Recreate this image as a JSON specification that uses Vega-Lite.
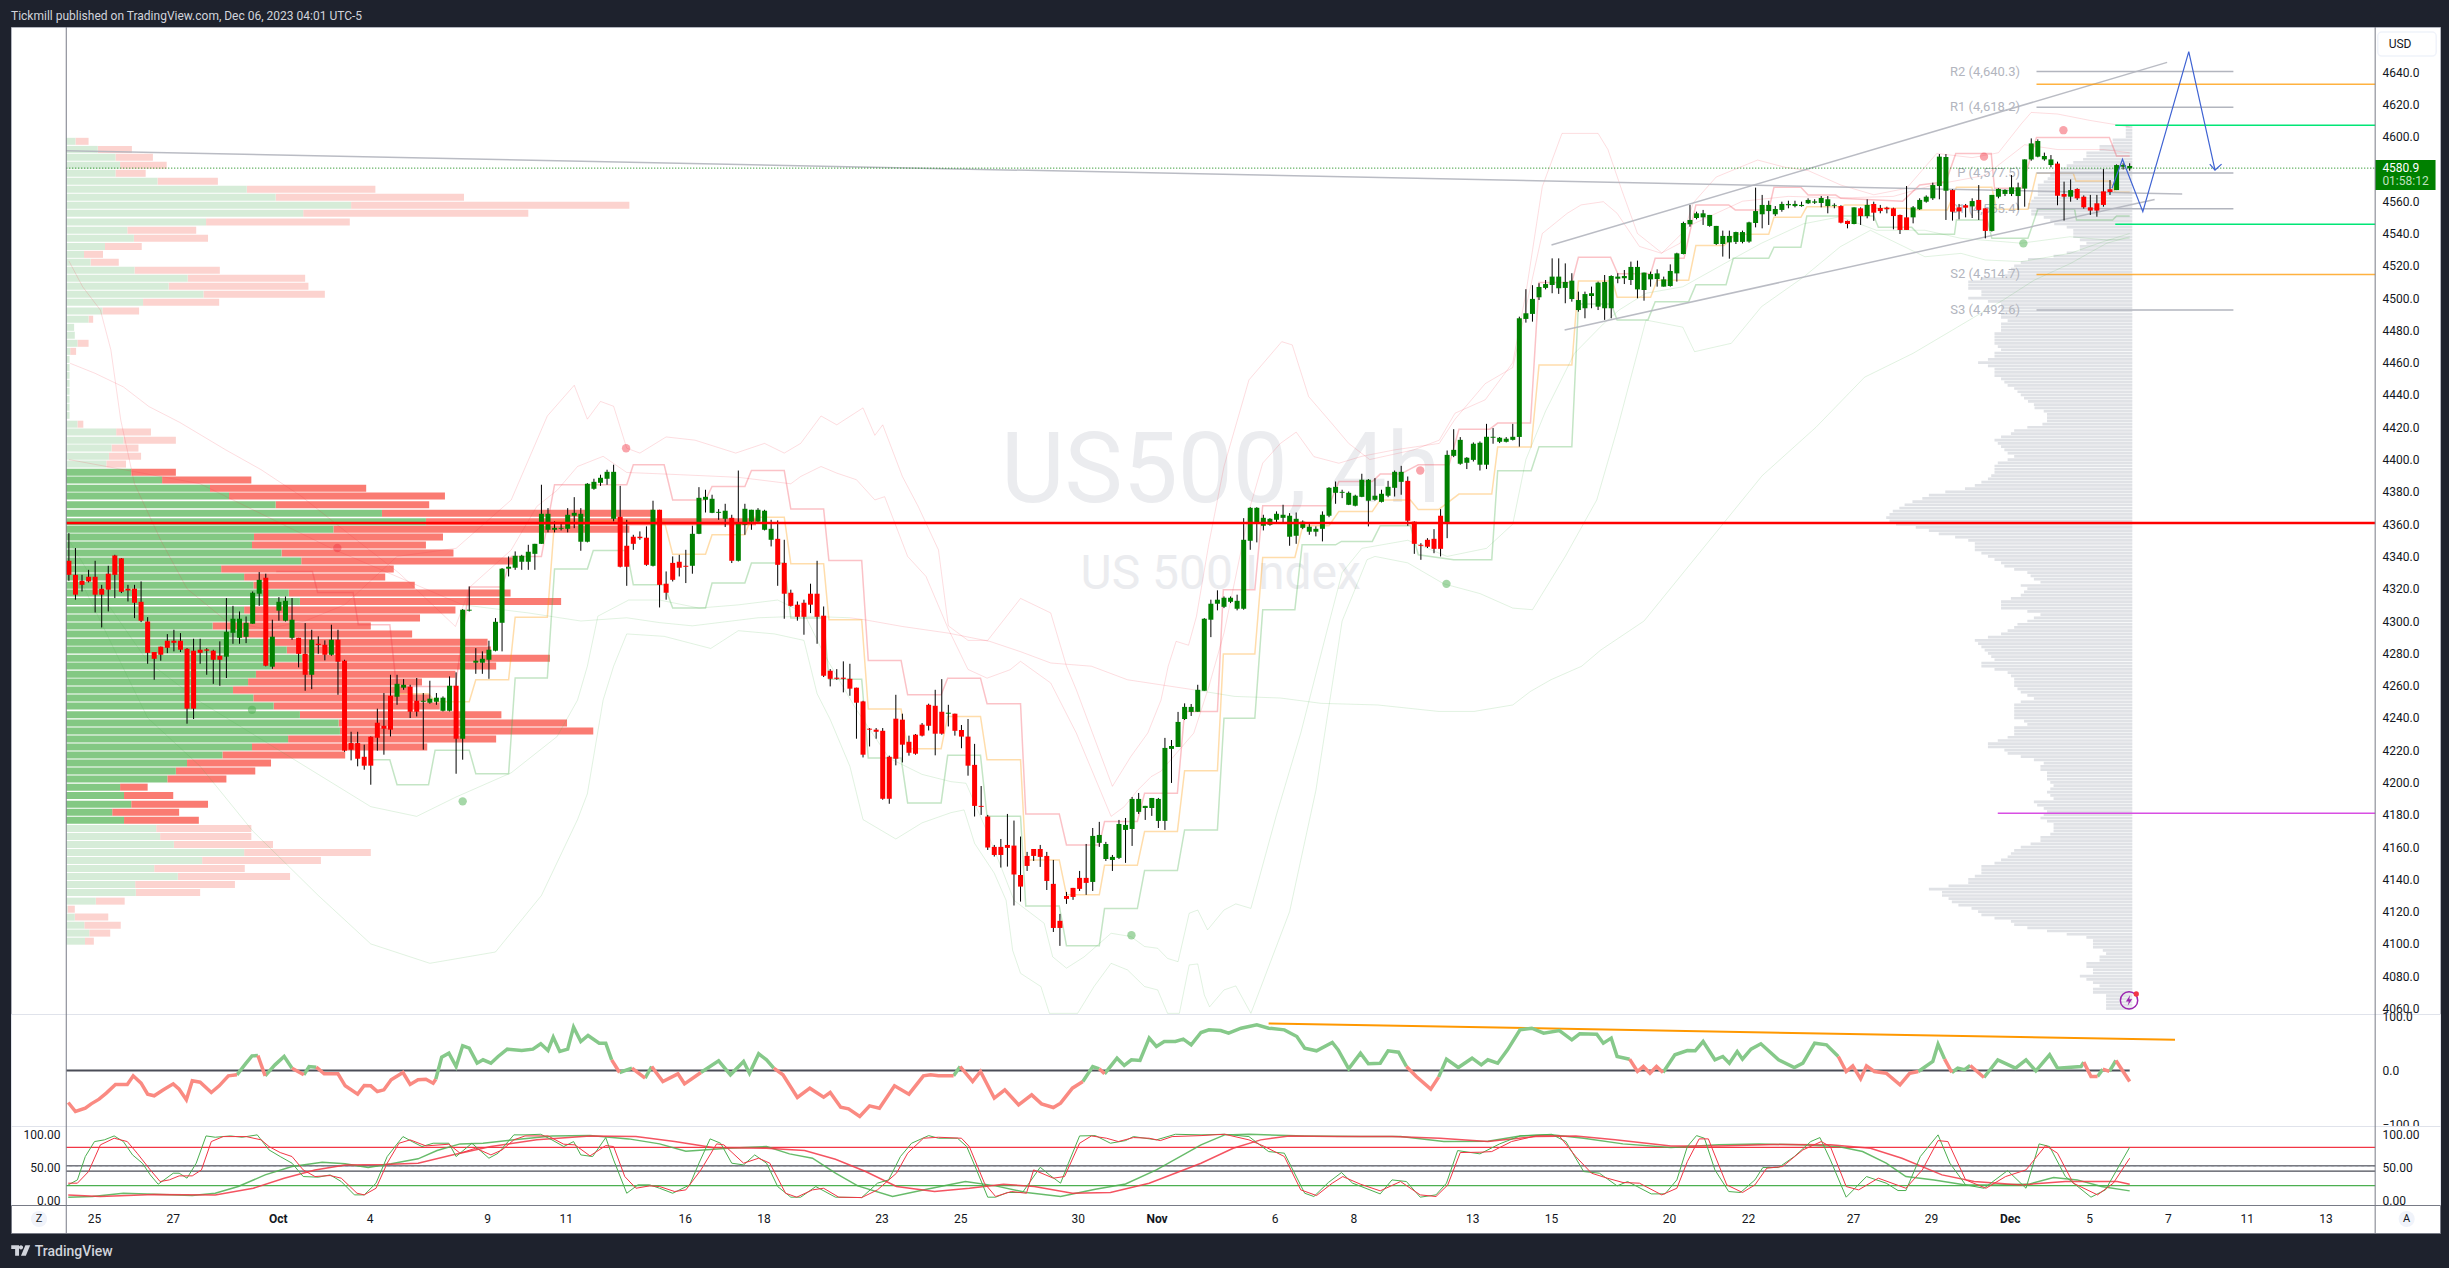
{"$schema":"https://vega.github.io/schema/vega-lite/v6.json","background":"#1e222d","padding":{"left":10,"right":10,"top":0,"bottom":0},"spacing":0,"bounds":"flush","config":{"font":"Roboto"},
"datasets":{
"candles":[
{"i":0,"d":0,"h":4354.4,"t":4337.3,"b":4328.6,"l":4324.9},{"i":1,"d":0,"h":4345.2,"t":4328.6,"b":4316.3,"l":4313.2},{"i":2,"d":0,"h":4328.6,"t":4324.9,"b":4322.4,"l":4318.3},{"i":3,"d":0,"h":4331.7,"t":4327.4,"b":4324.5,"l":4323.9},{"i":4,"d":0,"h":4337.3,"t":4327.4,"b":4316.3,"l":4305.3},{"i":5,"d":0,"h":4322.4,"t":4320,"b":4316.3,"l":4296},{"i":6,"d":0,"h":4334.2,"t":4329.3,"b":4319.4,"l":4305.9},{"i":7,"d":0,"h":4341,"t":4340.6,"b":4328.6,"l":4314.2},{"i":8,"d":0,"h":4339,"t":4338.8,"b":4318.1,"l":4317.3},{"i":9,"d":0,"h":4322.4,"t":4320,"b":4318.9,"l":4312.1},
{"i":10,"d":0,"h":4322.4,"t":4320,"b":4311.3,"l":4301.8},{"i":11,"d":0,"h":4324.5,"t":4311.9,"b":4300.2,"l":4299.3},{"i":12,"d":0,"h":4302.4,"t":4299.7,"b":4280.3,"l":4273.5},{"i":13,"d":0,"h":4280.8,"t":4280.8,"b":4276.6,"l":4263.6},{"i":14,"d":0,"h":4284.1,"t":4284.1,"b":4279.1,"l":4275.4},{"i":15,"d":0,"h":4291.9,"t":4287.8,"b":4283.4,"l":4280.1},{"i":16,"d":0,"h":4294.6,"t":4287.8,"b":4286.5,"l":4281.2},{"i":17,"d":0,"h":4292.5,"t":4287.8,"b":4282.2,"l":4280.8},{"i":18,"d":0,"h":4283.2,"t":4282.8,"b":4245.7,"l":4236.4},{"i":19,"d":0,"h":4289,"t":4281.6,"b":4245.7,"l":4239.3},
{"i":20,"d":0,"h":4289,"t":4282.2,"b":4280.3,"l":4273.5},{"i":21,"d":0,"h":4283.2,"t":4282.4,"b":4281.6,"l":4266.7},{"i":22,"d":0,"h":4282.2,"t":4281.6,"b":4276,"l":4261.1},{"i":23,"d":0,"h":4287.4,"t":4278.5,"b":4276,"l":4259.9},{"i":24,"d":1,"h":4314.2,"t":4293.3,"b":4277.9,"l":4264.7},{"i":25,"d":1,"h":4309.4,"t":4301.4,"b":4292.7,"l":4285.9},{"i":26,"d":1,"h":4305.9,"t":4301.4,"b":4289.6,"l":4285.9},{"i":27,"d":1,"h":4302.8,"t":4298.9,"b":4290.2,"l":4286.3},{"i":28,"d":1,"h":4318.3,"t":4317.5,"b":4298.3,"l":4298.3},{"i":29,"d":1,"h":4330.3,"t":4325.5,"b":4316.9,"l":4309.4},
{"i":30,"d":0,"h":4329.3,"t":4326.8,"b":4272.3,"l":4271.9},{"i":31,"d":1,"h":4300.8,"t":4290.3,"b":4271.7,"l":4270.4},{"i":32,"d":1,"h":4314.8,"t":4311.9,"b":4306.4,"l":4300.2},{"i":33,"d":1,"h":4315.2,"t":4312.5,"b":4300.2,"l":4299.7},{"i":34,"d":1,"h":4314.2,"t":4300.8,"b":4289.6,"l":4288.4},{"i":35,"d":0,"h":4289.6,"t":4289.6,"b":4279.7,"l":4271.3},{"i":36,"d":0,"h":4298.7,"t":4279.7,"b":4266.7,"l":4256.8},{"i":37,"d":1,"h":4294.6,"t":4288.4,"b":4266.7,"l":4257.8},{"i":38,"d":0,"h":4290.5,"t":4285.9,"b":4285.1,"l":4279.7},{"i":39,"d":0,"h":4288,"t":4285.3,"b":4279.1,"l":4275.6},
{"i":40,"d":1,"h":4297.7,"t":4288.4,"b":4279.1,"l":4278.5},{"i":41,"d":0,"h":4294.6,"t":4288.4,"b":4274.8,"l":4254.3},{"i":42,"d":0,"h":4276,"t":4275.4,"b":4219.7,"l":4219},{"i":43,"d":0,"h":4231.4,"t":4224.4,"b":4220.3,"l":4213.7},{"i":44,"d":0,"h":4231.4,"t":4224.4,"b":4214.7,"l":4210},{"i":45,"d":0,"h":4223.4,"t":4215.9,"b":4210.4,"l":4207.9},{"i":46,"d":0,"h":4228.5,"t":4228.3,"b":4210.4,"l":4198.6},{"i":47,"d":0,"h":4245.7,"t":4237,"b":4227.7,"l":4219.7},{"i":48,"d":0,"h":4255.4,"t":4235.1,"b":4233.3,"l":4217.2},{"i":49,"d":0,"h":4266.7,"t":4253.7,"b":4232.7,"l":4228.5},
{"i":50,"d":1,"h":4266.7,"t":4261.1,"b":4253.1,"l":4248.1},{"i":51,"d":1,"h":4264,"t":4260.5,"b":4258.7,"l":4257.4},{"i":52,"d":0,"h":4260.5,"t":4259.3,"b":4243.8,"l":4239.9},{"i":53,"d":0,"h":4264.7,"t":4250.6,"b":4243.8,"l":4240.9},{"i":54,"d":1,"h":4255.4,"t":4250.6,"b":4250,"l":4220.3},{"i":55,"d":1,"h":4263,"t":4251.9,"b":4249.4,"l":4248.8},{"i":56,"d":1,"h":4255.4,"t":4252.5,"b":4250,"l":4248.1},{"i":57,"d":1,"h":4253.3,"t":4252.5,"b":4244.4,"l":4244},{"i":58,"d":1,"h":4265.7,"t":4259.9,"b":4244.4,"l":4244},{"i":59,"d":0,"h":4268.2,"t":4259.9,"b":4227.1,"l":4205.4},
{"i":60,"d":1,"h":4307.4,"t":4307,"b":4227.1,"l":4214.1},{"i":61,"d":1,"h":4321.4,"t":4307,"b":4306.4,"l":4305.9},{"i":62,"d":1,"h":4283.2,"t":4275.4,"b":4274.2,"l":4267.3},{"i":63,"d":1,"h":4281.2,"t":4276.6,"b":4274.2,"l":4267.3},{"i":64,"d":1,"h":4287.8,"t":4282.2,"b":4276,"l":4264.2},{"i":65,"d":1,"h":4301.8,"t":4299.5,"b":4281.6,"l":4281.2},{"i":66,"d":1,"h":4332.8,"t":4332.4,"b":4298.9,"l":4281.2},{"i":67,"d":1,"h":4340,"t":4333.6,"b":4332.4,"l":4327.6},{"i":68,"d":1,"h":4343.1,"t":4340.4,"b":4333,"l":4331.7},{"i":69,"d":1,"h":4341,"t":4340.4,"b":4336.7,"l":4331.7},
{"i":70,"d":1,"h":4347.2,"t":4342.9,"b":4336.7,"l":4331.7},{"i":71,"d":1,"h":4347.8,"t":4347.8,"b":4341.6,"l":4331.7},{"i":72,"d":1,"h":4384.4,"t":4366.4,"b":4347.8,"l":4347.8},{"i":73,"d":1,"h":4369.9,"t":4366.4,"b":4356.5,"l":4354.9},{"i":74,"d":1,"h":4361.7,"t":4357.7,"b":4356.5,"l":4354.9},{"i":75,"d":1,"h":4360.6,"t":4357.7,"b":4357.1,"l":4356.1},{"i":76,"d":1,"h":4369.9,"t":4365.8,"b":4357.1,"l":4354.9},{"i":77,"d":1,"h":4376.7,"t":4367,"b":4365.2,"l":4357.5},{"i":78,"d":1,"h":4369.9,"t":4366.4,"b":4349.1,"l":4343.5},{"i":79,"d":1,"h":4385.4,"t":4385,"b":4349.1,"l":4348.7},
{"i":80,"d":1,"h":4388.1,"t":4386.2,"b":4381.9,"l":4381.3},{"i":81,"d":1,"h":4390.6,"t":4388.7,"b":4385.6,"l":4383.7},{"i":82,"d":1,"h":4393.7,"t":4392.4,"b":4388.1,"l":4384.4},{"i":83,"d":1,"h":4396.8,"t":4392.4,"b":4363.3,"l":4361.7},{"i":84,"d":0,"h":4383.7,"t":4364.6,"b":4333.6,"l":4333.2},{"i":85,"d":0,"h":4362.7,"t":4346.6,"b":4333.6,"l":4321.8},{"i":86,"d":0,"h":4353.4,"t":4352.2,"b":4347.8,"l":4344.1},{"i":87,"d":0,"h":4355.5,"t":4352.2,"b":4351.3,"l":4350.3},{"i":88,"d":0,"h":4358.6,"t":4351.6,"b":4334.8,"l":4334.2},{"i":89,"d":1,"h":4374.5,"t":4368.9,"b":4334.2,"l":4333.8},
{"i":90,"d":0,"h":4368.9,"t":4368.9,"b":4322.4,"l":4308.4},{"i":91,"d":0,"h":4330.7,"t":4323.1,"b":4317.5,"l":4313.2},{"i":92,"d":0,"h":4340,"t":4336,"b":4325.5,"l":4324.5},{"i":93,"d":0,"h":4341,"t":4336.7,"b":4333,"l":4327.6},{"i":94,"d":0,"h":4344.1,"t":4334.2,"b":4333.6,"l":4323.5},{"i":95,"d":1,"h":4359,"t":4354,"b":4334.2,"l":4329.3},{"i":96,"d":1,"h":4382.9,"t":4376.3,"b":4354,"l":4353.8},{"i":97,"d":1,"h":4381.3,"t":4376.9,"b":4375.1,"l":4367.2},{"i":98,"d":1,"h":4378.2,"t":4375.7,"b":4367,"l":4366.8},{"i":99,"d":1,"h":4369.3,"t":4367.6,"b":4367,"l":4362.7},
{"i":100,"d":1,"h":4372.6,"t":4368.3,"b":4363.3,"l":4358.2},{"i":101,"d":0,"h":4365.8,"t":4363.9,"b":4337.3,"l":4335.9},{"i":102,"d":1,"h":4393.2,"t":4360.2,"b":4337.3,"l":4336.9},{"i":103,"d":1,"h":4372.6,"t":4369.5,"b":4359.6,"l":4353.4},{"i":104,"d":1,"h":4368.9,"t":4368.9,"b":4361.5,"l":4356.5},{"i":105,"d":1,"h":4369.9,"t":4368.9,"b":4361.5,"l":4360.6},{"i":106,"d":1,"h":4368.9,"t":4368.3,"b":4356.5,"l":4356.1},{"i":107,"d":1,"h":4362.7,"t":4357.1,"b":4350.3,"l":4346.2},{"i":108,"d":0,"h":4362.3,"t":4350.9,"b":4334.8,"l":4321.8},{"i":109,"d":0,"h":4350.3,"t":4336,"b":4316.9,"l":4301.4},
{"i":110,"d":0,"h":4319.4,"t":4317.5,"b":4309.4,"l":4309},{"i":111,"d":0,"h":4312.1,"t":4310.1,"b":4302.6,"l":4300.2},{"i":112,"d":0,"h":4313.2,"t":4311.3,"b":4302.6,"l":4291.5},{"i":113,"d":0,"h":4323.1,"t":4316.9,"b":4310.1,"l":4304.9},{"i":114,"d":0,"h":4337.3,"t":4316.9,"b":4302.6,"l":4285.9},{"i":115,"d":0,"h":4309,"t":4303.3,"b":4266.1,"l":4265.3},{"i":116,"d":0,"h":4270.2,"t":4269.2,"b":4264.2,"l":4259.5},{"i":117,"d":0,"h":4270.2,"t":4264.9,"b":4264.2,"l":4263.6},{"i":118,"d":0,"h":4275,"t":4264.9,"b":4264.2,"l":4255.8},{"i":119,"d":0,"h":4273.5,"t":4264.2,"b":4258.1,"l":4253.7},
{"i":120,"d":0,"h":4258.7,"t":4258.7,"b":4249.4,"l":4227.1},{"i":121,"d":0,"h":4250.6,"t":4250.2,"b":4217.2,"l":4215.5},{"i":122,"d":0,"h":4233.7,"t":4233.3,"b":4232.7,"l":4222.3},{"i":123,"d":0,"h":4233.7,"t":4232.7,"b":4231.4,"l":4227.1},{"i":124,"d":0,"h":4233.7,"t":4232,"b":4189.9,"l":4189.3},{"i":125,"d":0,"h":4216.6,"t":4215.9,"b":4189.9,"l":4186.8},{"i":126,"d":0,"h":4254.3,"t":4239.5,"b":4214.7,"l":4210.6},{"i":127,"d":0,"h":4242.6,"t":4238.9,"b":4223.4,"l":4212.4},{"i":128,"d":0,"h":4229,"t":4225.2,"b":4218.4,"l":4216.6},{"i":129,"d":0,"h":4230,"t":4229.6,"b":4217.8,"l":4217.2},
{"i":130,"d":0,"h":4236.8,"t":4235.8,"b":4229,"l":4228.5},{"i":131,"d":0,"h":4248.8,"t":4248.1,"b":4235.1,"l":4232.2},{"i":132,"d":0,"h":4257.4,"t":4247.5,"b":4230.2,"l":4216.8},{"i":133,"d":0,"h":4264,"t":4243.8,"b":4230.2,"l":4229.6},{"i":134,"d":1,"h":4248.1,"t":4243.2,"b":4242.6,"l":4234.7},{"i":135,"d":0,"h":4242.6,"t":4242.6,"b":4232,"l":4229},{"i":136,"d":0,"h":4235.6,"t":4232.5,"b":4228.4,"l":4221.2},{"i":137,"d":0,"h":4239.3,"t":4228.4,"b":4210.4,"l":4204.2},{"i":138,"d":0,"h":4223.9,"t":4210.9,"b":4185.5,"l":4178.9},{"i":139,"d":0,"h":4197.8,"t":4185.5,"b":4184.9,"l":4179.9},
{"i":140,"d":0,"h":4179.9,"t":4178.9,"b":4159.7,"l":4158.2},{"i":141,"d":0,"h":4161.3,"t":4160.1,"b":4155.1,"l":4154.1},{"i":142,"d":0,"h":4165,"t":4160.1,"b":4155.1,"l":4147.3},{"i":143,"d":0,"h":4180.5,"t":4161.3,"b":4159.5,"l":4147.9},{"i":144,"d":0,"h":4176.4,"t":4160.9,"b":4143,"l":4123.8},{"i":145,"d":0,"h":4166.5,"t":4142.7,"b":4135.5,"l":4126.2},{"i":146,"d":0,"h":4157,"t":4154.5,"b":4148.3,"l":4145.2},{"i":147,"d":0,"h":4158.8,"t":4158.8,"b":4154.5,"l":4151.4},{"i":148,"d":0,"h":4161.3,"t":4158.8,"b":4153.9,"l":4147.7},{"i":149,"d":0,"h":4157,"t":4154.5,"b":4139,"l":4133.4},
{"i":150,"d":0,"h":4152,"t":4137.2,"b":4109.9,"l":4107.4},{"i":151,"d":0,"h":4118.6,"t":4114.3,"b":4109.9,"l":4098.8},{"i":152,"d":0,"h":4132.2,"t":4129.7,"b":4127.9,"l":4124.8},{"i":153,"d":0,"h":4134.7,"t":4134.7,"b":4129.1,"l":4127.3},{"i":154,"d":0,"h":4145.2,"t":4140.9,"b":4134.1,"l":4132.8},{"i":155,"d":0,"h":4161.9,"t":4140.9,"b":4137.8,"l":4130.4},{"i":156,"d":1,"h":4171.8,"t":4166.9,"b":4138.4,"l":4132.8},{"i":157,"d":1,"h":4175.6,"t":4167.5,"b":4162.6,"l":4160.1},{"i":158,"d":1,"h":4163.2,"t":4161.9,"b":4152.6,"l":4151.4},{"i":159,"d":1,"h":4155.1,"t":4153.9,"b":4152,"l":4145.2},
{"i":160,"d":1,"h":4176.8,"t":4174.3,"b":4153.3,"l":4152.6},{"i":161,"d":1,"h":4178,"t":4173.7,"b":4170.6,"l":4150.2},{"i":162,"d":1,"h":4191,"t":4189.8,"b":4171.2,"l":4160.7},{"i":163,"d":1,"h":4193.5,"t":4189.8,"b":4181.8,"l":4180.5},{"i":164,"d":1,"h":4185.5,"t":4185.5,"b":4184.2,"l":4176.8},{"i":165,"d":1,"h":4190.4,"t":4190.4,"b":4184.2,"l":4179.3},{"i":166,"d":1,"h":4190.4,"t":4189.8,"b":4176.2,"l":4171.8},{"i":167,"d":1,"h":4227.6,"t":4221.4,"b":4176.2,"l":4170.6},{"i":168,"d":1,"h":4226.3,"t":4222.6,"b":4220.8,"l":4199.7},{"i":169,"d":1,"h":4243.7,"t":4237.5,"b":4222,"l":4222},
{"i":170,"d":1,"h":4249,"t":4246.8,"b":4239.3,"l":4238.7},{"i":171,"d":1,"h":4248.6,"t":4246.8,"b":4243.7,"l":4241.2},{"i":172,"d":1,"h":4260.5,"t":4257.4,"b":4243.8,"l":4243.8},{"i":173,"d":1,"h":4301.8,"t":4301.4,"b":4256.8,"l":4256.8},{"i":174,"d":1,"h":4313.2,"t":4310.7,"b":4300.8,"l":4290},{"i":175,"d":1,"h":4319,"t":4313.2,"b":4310.7,"l":4306.6},{"i":176,"d":1,"h":4315.2,"t":4314.4,"b":4308.8,"l":4308},{"i":177,"d":1,"h":4315.2,"t":4314.4,"b":4311.9,"l":4311.1},{"i":178,"d":1,"h":4316.3,"t":4312.5,"b":4307.6,"l":4306.6},{"i":179,"d":1,"h":4363.7,"t":4350.3,"b":4307.6,"l":4307},
{"i":180,"d":1,"h":4370.5,"t":4370.1,"b":4349.7,"l":4344.1},{"i":181,"d":1,"h":4370.5,"t":4370.1,"b":4360.2,"l":4348.7},{"i":182,"d":1,"h":4365.8,"t":4363.9,"b":4359,"l":4356.1},{"i":183,"d":1,"h":4363.7,"t":4363.3,"b":4359.6,"l":4359},{"i":184,"d":1,"h":4367.9,"t":4366.4,"b":4362.7,"l":4360.6},{"i":185,"d":1,"h":4372,"t":4365.8,"b":4363.9,"l":4360.2},{"i":186,"d":1,"h":4366.8,"t":4365.2,"b":4352.2,"l":4346.6},{"i":187,"d":1,"h":4367.2,"t":4363.3,"b":4352.8,"l":4347.8},{"i":188,"d":1,"h":4362.3,"t":4361.5,"b":4357.7,"l":4356.9},{"i":189,"d":1,"h":4360.2,"t":4358.4,"b":4355.3,"l":4353.4},
{"i":190,"d":1,"h":4358.6,"t":4357.1,"b":4355.3,"l":4352.4},{"i":191,"d":1,"h":4367.9,"t":4365.8,"b":4357.1,"l":4349.3},{"i":192,"d":1,"h":4382.9,"t":4382.5,"b":4365.2,"l":4364.3},{"i":193,"d":1,"h":4386.4,"t":4383.1,"b":4379.4,"l":4372.6},{"i":194,"d":1,"h":4381.3,"t":4380,"b":4379.4,"l":4376.1},{"i":195,"d":1,"h":4380.2,"t":4379.4,"b":4372,"l":4371.8},{"i":196,"d":1,"h":4378.2,"t":4377.6,"b":4371.4,"l":4371},{"i":197,"d":1,"h":4391.2,"t":4387.5,"b":4376.9,"l":4376.7},{"i":198,"d":1,"h":4387.9,"t":4387.5,"b":4374.5,"l":4358.6},{"i":199,"d":1,"h":4388.5,"t":4377.6,"b":4375.1,"l":4374.5},
{"i":200,"d":1,"h":4381.3,"t":4378.8,"b":4373.8,"l":4373.4},{"i":201,"d":1,"h":4386.8,"t":4383.1,"b":4377.6,"l":4376.7},{"i":202,"d":1,"h":4393.2,"t":4392.4,"b":4382.5,"l":4377.1},{"i":203,"d":1,"h":4396.1,"t":4392.4,"b":4386.2,"l":4378.2},{"i":204,"d":0,"h":4389.5,"t":4386.8,"b":4362.1,"l":4359},{"i":205,"d":0,"h":4361.7,"t":4361.5,"b":4347.8,"l":4341.6},{"i":206,"d":0,"h":4348.2,"t":4347.2,"b":4346.6,"l":4337.9},{"i":207,"d":0,"h":4351.3,"t":4350.3,"b":4346,"l":4345.2},{"i":208,"d":0,"h":4356.9,"t":4350.9,"b":4344.7,"l":4342},{"i":209,"d":0,"h":4369.3,"t":4365.2,"b":4344.7,"l":4340},
{"i":210,"d":1,"h":4405.6,"t":4402.9,"b":4360.2,"l":4351.3},{"i":211,"d":1,"h":4418.8,"t":4406,"b":4402.3,"l":4401.5},{"i":212,"d":1,"h":4413.9,"t":4412.2,"b":4397.4,"l":4396.8},{"i":213,"d":1,"h":4401.5,"t":4401.1,"b":4398,"l":4394.1},{"i":214,"d":1,"h":4410.6,"t":4409.8,"b":4399.8,"l":4398.8},{"i":215,"d":1,"h":4411.2,"t":4410.4,"b":4396.8,"l":4393.2},{"i":216,"d":1,"h":4422.1,"t":4414.1,"b":4396.8,"l":4394.1},{"i":217,"d":1,"h":4419.5,"t":4414.1,"b":4413.5,"l":4409.8},{"i":218,"d":1,"h":4413.9,"t":4413.5,"b":4411,"l":4410.2},{"i":219,"d":1,"h":4413.9,"t":4412.9,"b":4411,"l":4410.6},
{"i":220,"d":1,"h":4422.1,"t":4414.1,"b":4412.2,"l":4411.8},{"i":221,"d":1,"h":4488.5,"t":4487.5,"b":4414,"l":4408},{"i":222,"d":1,"h":4505.5,"t":4490.6,"b":4487.1,"l":4484.8},{"i":223,"d":1,"h":4508,"t":4499.5,"b":4490.2,"l":4485.4},{"i":224,"d":1,"h":4509.2,"t":4506.9,"b":4500.5,"l":4498.8},{"i":225,"d":1,"h":4511.2,"t":4508.7,"b":4506.3,"l":4505.4},{"i":226,"d":1,"h":4524.6,"t":4513.3,"b":4508.1,"l":4503},{"i":227,"d":1,"h":4524.6,"t":4513.3,"b":4506.1,"l":4502.6},{"i":228,"d":1,"h":4521.5,"t":4510,"b":4506.3,"l":4496.8},{"i":229,"d":1,"h":4515.4,"t":4510.8,"b":4499.4,"l":4497.8},
{"i":230,"d":1,"h":4504,"t":4498.8,"b":4492.6,"l":4491.6},{"i":231,"d":1,"h":4504,"t":4502.5,"b":4493.7,"l":4487.5},{"i":232,"d":1,"h":4507.1,"t":4503,"b":4501.3,"l":4493.7},{"i":233,"d":1,"h":4510.2,"t":4509.6,"b":4494.7,"l":4492.6},{"i":234,"d":1,"h":4514.3,"t":4510,"b":4493.7,"l":4486.5},{"i":235,"d":1,"h":4514.1,"t":4513.7,"b":4493.7,"l":4487.5},{"i":236,"d":1,"h":4515.4,"t":4513.3,"b":4512,"l":4509.2},{"i":237,"d":1,"h":4517.4,"t":4513.7,"b":4512.3,"l":4508.7},{"i":238,"d":1,"h":4522.6,"t":4519.3,"b":4511.2,"l":4508.1},{"i":239,"d":1,"h":4523.2,"t":4519.3,"b":4505.4,"l":4499.9},
{"i":240,"d":1,"h":4515.8,"t":4515.8,"b":4505,"l":4498.4},{"i":241,"d":1,"h":4516.4,"t":4514.9,"b":4511.6,"l":4507.1},{"i":242,"d":1,"h":4517.8,"t":4515.3,"b":4511.8,"l":4507.1},{"i":243,"d":1,"h":4513.3,"t":4511.6,"b":4507.1,"l":4507.1},{"i":244,"d":1,"h":4520.9,"t":4516.8,"b":4507.5,"l":4507.1},{"i":245,"d":1,"h":4528.1,"t":4527.7,"b":4515.3,"l":4510.2},{"i":246,"d":1,"h":4547.3,"t":4546.5,"b":4527.3,"l":4527.1},{"i":247,"d":1,"h":4557.7,"t":4548.4,"b":4545.7,"l":4544.2},{"i":248,"d":1,"h":4553.5,"t":4552.5,"b":4549.6,"l":4548.8},{"i":249,"d":1,"h":4554.6,"t":4552.5,"b":4550,"l":4545.3},
{"i":250,"d":1,"h":4551.5,"t":4551.5,"b":4544.7,"l":4544.2},{"i":251,"d":1,"h":4544.7,"t":4544.7,"b":4533.5,"l":4532.9},{"i":252,"d":1,"h":4541.8,"t":4538.5,"b":4533.5,"l":4525.7},{"i":253,"d":1,"h":4541.8,"t":4538.5,"b":4534.5,"l":4524.4},{"i":254,"d":1,"h":4541.1,"t":4540.9,"b":4534.8,"l":4533.5},{"i":255,"d":1,"h":4541.8,"t":4540.9,"b":4534.8,"l":4533.9},{"i":256,"d":1,"h":4547.3,"t":4546.9,"b":4535,"l":4534.3},{"i":257,"d":1,"h":4568.4,"t":4553.9,"b":4546.5,"l":4543.8},{"i":258,"d":1,"h":4563.9,"t":4557.7,"b":4551.9,"l":4543.2},{"i":259,"d":1,"h":4560.3,"t":4557.7,"b":4553.9,"l":4545.3},
{"i":260,"d":1,"h":4557,"t":4555.2,"b":4551.9,"l":4550.8},{"i":261,"d":1,"h":4559.7,"t":4558.3,"b":4554.6,"l":4553.5},{"i":262,"d":1,"h":4560.3,"t":4558.3,"b":4557.5,"l":4555.6},{"i":263,"d":1,"h":4560.3,"t":4558.3,"b":4557,"l":4556.2},{"i":264,"d":1,"h":4559.7,"t":4557.7,"b":4557,"l":4556.6},{"i":265,"d":1,"h":4561.8,"t":4560.8,"b":4558.7,"l":4558.3},{"i":266,"d":1,"h":4561.2,"t":4559.9,"b":4559.1,"l":4558.3},{"i":267,"d":1,"h":4563.2,"t":4562,"b":4558.9,"l":4556.2},{"i":268,"d":1,"h":4563.2,"t":4561.2,"b":4557,"l":4552.5},{"i":269,"d":1,"h":4558.7,"t":4557.7,"b":4557.2,"l":4555.6},
{"i":270,"d":0,"h":4557.5,"t":4557,"b":4546.7,"l":4546.3},{"i":271,"d":0,"h":4548,"t":4547.8,"b":4545.9,"l":4543.2},{"i":272,"d":1,"h":4556.2,"t":4556.2,"b":4545.9,"l":4545.7},{"i":273,"d":0,"h":4556.2,"t":4555.6,"b":4550.8,"l":4545.3},{"i":274,"d":1,"h":4561.2,"t":4557.7,"b":4550.8,"l":4549.4},{"i":275,"d":0,"h":4559.7,"t":4558.3,"b":4552.9,"l":4547.9},{"i":276,"d":0,"h":4557.7,"t":4555.8,"b":4553.9,"l":4552.5},{"i":277,"d":0,"h":4556.6,"t":4556,"b":4555,"l":4552.5},{"i":278,"d":0,"h":4556,"t":4555.6,"b":4550.8,"l":4542.6},{"i":279,"d":0,"h":4551.7,"t":4551.5,"b":4542.2,"l":4539.7},
{"i":280,"d":0,"h":4569.4,"t":4550,"b":4542.2,"l":4542.2},{"i":281,"d":1,"h":4557,"t":4556.2,"b":4550,"l":4546.3},{"i":282,"d":1,"h":4561.8,"t":4560.8,"b":4555,"l":4554.6},{"i":283,"d":1,"h":4563.6,"t":4562.8,"b":4559.7,"l":4559.1},{"i":284,"d":1,"h":4571.5,"t":4570,"b":4561.8,"l":4560.8},{"i":285,"d":1,"h":4589.2,"t":4587.6,"b":4569.4,"l":4561.2},{"i":286,"d":1,"h":4589.2,"t":4587.4,"b":4566.5,"l":4548.4},{"i":287,"d":0,"h":4567.4,"t":4566.9,"b":4553.5,"l":4548},{"i":288,"d":0,"h":4558.3,"t":4556.2,"b":4553.7,"l":4548.8},{"i":289,"d":0,"h":4558.3,"t":4557.5,"b":4556,"l":4550},
{"i":290,"d":1,"h":4561.8,"t":4560.1,"b":4556.8,"l":4549.6},{"i":291,"d":0,"h":4570,"t":4560.8,"b":4554.6,"l":4548.4},{"i":292,"d":0,"h":4555.6,"t":4555.6,"b":4541.6,"l":4537},{"i":293,"d":1,"h":4563.9,"t":4563.9,"b":4541.6,"l":4541.2},{"i":294,"d":1,"h":4568,"t":4567.6,"b":4562.8,"l":4561.8},{"i":295,"d":1,"h":4567.4,"t":4567,"b":4564.5,"l":4563.2},{"i":296,"d":1,"h":4576.2,"t":4568.6,"b":4564.5,"l":4563.2},{"i":297,"d":1,"h":4571.5,"t":4568.6,"b":4563.2,"l":4554.6},{"i":298,"d":1,"h":4585.9,"t":4585.9,"b":4567.8,"l":4556.6},{"i":299,"d":1,"h":4598.9,"t":4595.8,"b":4585.9,"l":4585.1},
{"i":300,"d":1,"h":4598.3,"t":4597.3,"b":4587.6,"l":4587.2},{"i":301,"d":1,"h":4590.1,"t":4588,"b":4585.9,"l":4585.1},{"i":302,"d":1,"h":4588.6,"t":4585.9,"b":4582.4,"l":4581},{"i":303,"d":0,"h":4584.5,"t":4583.3,"b":4563.4,"l":4557.5},{"i":304,"d":0,"h":4572.1,"t":4564.5,"b":4562.8,"l":4548},{"i":305,"d":1,"h":4573.5,"t":4566.9,"b":4562.8,"l":4559.7},{"i":306,"d":0,"h":4568,"t":4567.6,"b":4561.8,"l":4560.8},{"i":307,"d":0,"h":4563.6,"t":4562.8,"b":4556.2,"l":4555.4},{"i":308,"d":0,"h":4563.9,"t":4556.2,"b":4554.2,"l":4551.5},{"i":309,"d":0,"h":4563.9,"t":4558.7,"b":4554.2,"l":4550.4},
{"i":310,"d":0,"h":4579.9,"t":4566.1,"b":4557.7,"l":4556.6},{"i":311,"d":0,"h":4573.1,"t":4567.4,"b":4565.7,"l":4563.9},{"i":312,"d":1,"h":4582.8,"t":4582.4,"b":4566.9,"l":4566.9},{"i":313,"d":1,"h":4583.5,"t":4582.4,"b":4581.4,"l":4579.7},{"i":314,"d":1,"h":4583.5,"t":4581.8,"b":4580.4,"l":4578.9}],
"vol":[
{"p":4597.1,"o":-0.4,"g":1,"r":3,"v":0},{"p":4592.1,"o":-0.4,"g":4.4,"r":9.6,"v":0},{"p":4587.2,"o":-0.4,"g":7.1,"r":12.8,"v":0},{"p":4582.2,"o":-0.4,"g":7.8,"r":14.9,"v":0},{"p":4577.3,"o":-0.4,"g":7.1,"r":11.7,"v":0},{"p":4572.3,"o":-0.4,"g":13.5,"r":22.7,"v":0},{"p":4567.4,"o":-0.4,"g":27.1,"r":46.7,"v":0},{"p":4562.4,"o":-0.4,"g":31.5,"r":60.2,"v":0},{"p":4557.5,"o":-0.4,"g":43,"r":85.4,"v":0},{"p":4552.5,"o":-0.4,"g":35.7,"r":70,"v":0},{"p":4547.2,"o":-0.4,"g":20.9,"r":42.8,"v":0},{"p":4542,"o":-0.4,"g":8.9,"r":19.4,"v":0},{"p":4537,"o":-0.4,"g":9.9,"r":21.2,"v":0},{"p":4532,"o":-0.4,"g":5.5,"r":11.1,"v":0},{"p":4527.1,"o":-0.4,"g":2.3,"r":5.2,"v":0},{"p":4522.2,"o":-0.4,"g":3.3,"r":7.6,"v":0},{"p":4517.2,"o":-0.4,"g":10,"r":23,"v":0},{"p":4512.3,"o":-0.4,"g":18.1,"r":36,"v":0},{"p":4507.3,"o":-0.4,"g":15.2,"r":36.5,"v":0},{"p":4502.4,"o":-0.4,"g":20.5,"r":39,"v":0},{"p":4497.4,"o":-0.4,"g":11.3,"r":22.9,"v":0},{"p":4492,"o":-0.4,"g":5.1,"r":10.7,"v":0},{"p":4486.9,"o":-0.4,"g":3,"r":3.7,"v":0},{"p":4481.9,"o":-0.4,"g":0.8,"r":0.8,"v":0},{"p":4477,"o":-0.4,"g":0.9,"r":0.9,"v":0},{"p":4472,"o":-0.4,"g":1.3,"r":3,"v":0},{"p":4467,"o":-0.4,"g":0.2,"r":1.1,"v":0},{"p":4462,"o":-0.4,"g":0.1,"r":0.1,"v":0},{"p":4457,"o":-0.4,"g":0.1,"r":0.1,"v":0},{"p":4452.2,"o":-0.4,"g":0.1,"r":0.1,"v":0},{"p":4447.2,"o":-0.4,"g":0.1,"r":0.1,"v":0},{"p":4442.3,"o":-0.4,"g":0.1,"r":0.1,"v":0},{"p":4437.3,"o":-0.4,"g":0.1,"r":0.1,"v":0},{"p":4432.4,"o":-0.4,"g":0.1,"r":0.1,"v":0},{"p":4427.4,"o":-0.4,"g":0.1,"r":0.1,"v":0},{"p":4421.9,"o":-0.4,"g":1.3,"r":2.2,"v":0},{"p":4417,"o":-0.4,"g":7.2,"r":12.5,"v":0},{"p":4412,"o":-0.4,"g":8.3,"r":16.3,"v":0},{"p":4407.1,"o":-0.4,"g":6.5,"r":10.6,"v":0},{"p":4402.1,"o":-0.4,"g":6.1,"r":11,"v":0},{"p":4397.2,"o":-0.4,"g":5.7,"r":8.7,"v":0},
{"p":4392.2,"o":-0.4,"g":9.5,"r":16.3,"v":1},{"p":4387.3,"o":-0.4,"g":14.2,"r":27.8,"v":1},{"p":4382.3,"o":-0.4,"g":21.5,"r":45.3,"v":1},{"p":4377.4,"o":-0.4,"g":24.4,"r":57.3,"v":1},{"p":4372,"o":-0.4,"g":31.5,"r":54.9,"v":1},{"p":4366.8,"o":-0.4,"g":47.7,"r":89.2,"v":1},{"p":4361.5,"o":-0.4,"g":54.4,"r":104.7,"v":1},{"p":4356.9,"o":-0.4,"g":40.3,"r":85.4,"v":1},{"p":4352,"o":-0.4,"g":28.2,"r":57,"v":1},{"p":4347,"o":-0.4,"g":27.9,"r":54.4,"v":1},{"p":4342.1,"o":-0.4,"g":32.4,"r":58.6,"v":1},{"p":4337.1,"o":-0.4,"g":35.4,"r":68.2,"v":1},{"p":4332.2,"o":-0.4,"g":23.2,"r":49.5,"v":1},{"p":4327.2,"o":-0.4,"g":26.7,"r":48.2,"v":1},{"p":4322.2,"o":-0.4,"g":28.1,"r":52.7,"v":1},{"p":4317.3,"o":-0.4,"g":33.5,"r":67.3,"v":1},{"p":4312.1,"o":-0.4,"g":35.2,"r":75,"v":1},{"p":4306.8,"o":-0.4,"g":26.7,"r":58.9,"v":1},{"p":4301.8,"o":-0.4,"g":28.1,"r":53.5,"v":1},{"p":4296.9,"o":-0.4,"g":21.9,"r":46,"v":1},{"p":4291.9,"o":-0.4,"g":26.2,"r":52.3,"v":1},{"p":4286.9,"o":-0.4,"g":30.9,"r":63.8,"v":1},{"p":4282,"o":-0.4,"g":33.2,"r":64.3,"v":1},{"p":4277,"o":-0.4,"g":35.5,"r":73.3,"v":1},{"p":4272.1,"o":-0.4,"g":30.9,"r":65.1,"v":1},{"p":4267.1,"o":-0.4,"g":28.5,"r":58.9,"v":1},{"p":4262.2,"o":-0.4,"g":27.3,"r":53.8,"v":1},{"p":4257.2,"o":-0.4,"g":25,"r":51.9,"v":1},{"p":4252.3,"o":-0.4,"g":28.1,"r":55,"v":1},{"p":4247.3,"o":-0.4,"g":31.2,"r":56.5,"v":1},{"p":4242,"o":-0.4,"g":35.2,"r":65.9,"v":1},{"p":4236.8,"o":-0.4,"g":41.1,"r":75.9,"v":1},{"p":4231.8,"o":-0.4,"g":41.3,"r":79.9,"v":1},{"p":4226.9,"o":-0.4,"g":33.4,"r":65.1,"v":1},{"p":4221.9,"o":-0.4,"g":27.9,"r":54.6,"v":1},{"p":4217,"o":-0.4,"g":23.4,"r":42.1,"v":1},{"p":4212,"o":-0.4,"g":18,"r":30.8,"v":1},{"p":4207.1,"o":-0.4,"g":16.3,"r":28.4,"v":1},{"p":4202.1,"o":-0.4,"g":15,"r":24,"v":1},{"p":4197.1,"o":-0.4,"g":7.8,"r":12,"v":1},{"p":4191.9,"o":-0.4,"g":8.4,"r":15.9,"v":1},{"p":4186.5,"o":-0.4,"g":9.5,"r":21.2,"v":1},{"p":4181.6,"o":-0.4,"g":6.6,"r":16.8,"v":1},{"p":4176.6,"o":-0.4,"g":8.4,"r":19.8,"v":1},
{"p":4171.5,"o":-0.4,"g":13.3,"r":27.8,"v":0},{"p":4166.5,"o":-0.4,"g":13.9,"r":27.8,"v":0},{"p":4161.6,"o":-0.4,"g":16,"r":31.1,"v":0},{"p":4156.6,"o":-0.4,"g":26.7,"r":46,"v":0},{"p":4151.7,"o":-0.4,"g":20.3,"r":38.4,"v":0},{"p":4146.7,"o":-0.4,"g":13,"r":26.8,"v":0},{"p":4141.7,"o":-0.4,"g":16.6,"r":33.7,"v":0},{"p":4136.8,"o":-0.4,"g":10.1,"r":25.3,"v":0},{"p":4131.8,"o":-0.4,"g":10.2,"r":20,"v":0},{"p":4126.5,"o":-0.4,"g":4.1,"r":8.5,"v":0},{"p":4121.5,"o":-0.4,"g":-0.2,"r":0.9,"v":0},{"p":4116.6,"o":-0.4,"g":0.9,"r":6,"v":0},{"p":4111.6,"o":-0.4,"g":2.35,"r":7.9,"v":0},{"p":4106.7,"o":-0.4,"g":3.1,"r":6.3,"v":0},{"p":4101.7,"o":-0.4,"g":2.45,"r":3.8,"v":0}],
"grey":[
{"p":4606,"a":313.4,"e":314.4},{"p":4604,"a":313.4,"e":314.4},{"p":4602,"a":313.4,"e":314.4},{"p":4600,"a":313.4,"e":314.4},{"p":4598,"a":311.4,"e":314.4},{"p":4596,"a":311.4,"e":314.4},{"p":4594,"a":309.4,"e":314.4},{"p":4592,"a":309.4,"e":314.4},{"p":4590,"a":307.4,"e":314.4},{"p":4588,"a":307.4,"e":314.4},{"p":4586,"a":306.9,"e":314.4},{"p":4584,"a":305.4,"e":314.4},{"p":4582,"a":304.4,"e":314.4},{"p":4580,"a":303.5,"e":314.4},{"p":4578,"a":302.4,"e":314.4},{"p":4576,"a":301.9,"e":314.4},{"p":4574,"a":301.5,"e":314.4},{"p":4572,"a":300.9,"e":314.4},{"p":4570,"a":300,"e":314.4},{"p":4568,"a":300,"e":314.4},{"p":4566,"a":300,"e":314.4},{"p":4564,"a":300,"e":314.4},{"p":4562,"a":299.4,"e":314.4},{"p":4560,"a":299,"e":314.4},{"p":4558,"a":298.5,"e":314.4},{"p":4556,"a":298.5,"e":314.4},{"p":4554,"a":299,"e":314.4},{"p":4552,"a":299,"e":314.4},{"p":4550,"a":300.9,"e":314.4},{"p":4548,"a":301.9,"e":314.4},{"p":4546,"a":302.5,"e":314.4},{"p":4544,"a":304.4,"e":314.4},{"p":4542,"a":305.4,"e":314.4},{"p":4540,"a":305.4,"e":314.4},{"p":4538,"a":305.4,"e":314.4},{"p":4536,"a":306.4,"e":314.4},{"p":4534,"a":307.4,"e":314.4},{"p":4532,"a":306.4,"e":314.4},{"p":4530,"a":306.4,"e":314.4},{"p":4528,"a":304.4,"e":314.4},{"p":4526,"a":302.4,"e":314.4},{"p":4524,"a":298.5,"e":314.4},{"p":4522,"a":297.4,"e":314.4},{"p":4520,"a":296.4,"e":314.4},{"p":4518,"a":295.9,"e":314.4},{"p":4516,"a":295.4,"e":314.4},{"p":4514,"a":294.9,"e":314.4},{"p":4512,"a":291.4,"e":314.4},{"p":4510,"a":289.4,"e":314.4},{"p":4508,"a":289.4,"e":314.4},{"p":4506,"a":289.4,"e":314.4},{"p":4504,"a":291.4,"e":314.4},{"p":4502,"a":291.4,"e":314.4},{"p":4500,"a":289.4,"e":314.4},{"p":4498,"a":292.4,"e":314.4},{"p":4496,"a":294.4,"e":314.4},{"p":4494,"a":294.4,"e":314.4},{"p":4492,"a":294.4,"e":314.4},{"p":4490,"a":294.4,"e":314.4},{"p":4488,"a":294.4,"e":314.4},{"p":4486,"a":295.4,"e":314.4},{"p":4484,"a":294.4,"e":314.4},{"p":4482,"a":294.4,"e":314.4},{"p":4480,"a":294.4,"e":314.4},{"p":4478,"a":293.4,"e":314.4},{"p":4476,"a":293.4,"e":314.4},{"p":4474,"a":293.4,"e":314.4},{"p":4472,"a":293.4,"e":314.4},{"p":4470,"a":293.9,"e":314.4},{"p":4468,"a":294.4,"e":314.4},{"p":4466,"a":293.4,"e":314.4},{"p":4464,"a":293.4,"e":314.4},{"p":4462,"a":292.4,"e":314.4},{"p":4460,"a":290.9,"e":314.4},{"p":4458,"a":292.4,"e":314.4},{"p":4456,"a":293.4,"e":314.4},{"p":4454,"a":293.4,"e":314.4},{"p":4452,"a":293.4,"e":314.4},{"p":4450,"a":294.4,"e":314.4},{"p":4448,"a":294.9,"e":314.4},{"p":4446,"a":295.4,"e":314.4},{"p":4444,"a":296.4,"e":314.4},{"p":4442,"a":296.9,"e":314.4},{"p":4440,"a":297.4,"e":314.4},{"p":4438,"a":297.9,"e":314.4},{"p":4436,"a":298.5,"e":314.4},{"p":4434,"a":299.4,"e":314.4},{"p":4432,"a":299.5,"e":314.4},{"p":4430,"a":300.9,"e":314.4},{"p":4428,"a":301.4,"e":314.4},{"p":4426,"a":301.4,"e":314.4},{"p":4424,"a":301.4,"e":314.4},{"p":4422,"a":300.7,"e":314.4},{"p":4420,"a":298.4,"e":314.4},{"p":4418,"a":296.4,"e":314.4},{"p":4416,"a":295.9,"e":314.4},{"p":4414,"a":294.4,"e":314.4},{"p":4412,"a":293.4,"e":314.4},{"p":4410,"a":293.9,"e":314.4},{"p":4408,"a":294.4,"e":314.4},{"p":4406,"a":294.9,"e":314.4},{"p":4404,"a":295.4,"e":314.4},{"p":4402,"a":296.4,"e":314.4},{"p":4400,"a":295.4,"e":314.4},{"p":4398,"a":293.9,"e":314.4},{"p":4396,"a":293.4,"e":314.4},{"p":4394,"a":293.4,"e":314.4},{"p":4392,"a":293.4,"e":314.4},{"p":4390,"a":292.9,"e":314.4},{"p":4388,"a":292.4,"e":314.4},{"p":4386,"a":291.4,"e":314.4},{"p":4384,"a":290.4,"e":314.4},{"p":4382,"a":288.9,"e":314.4},{"p":4380,"a":285.9,"e":314.4},{"p":4378,"a":283.4,"e":314.4},{"p":4376,"a":282.4,"e":314.4},{"p":4374,"a":280.9,"e":314.4},{"p":4372,"a":279.7,"e":314.4},{"p":4370,"a":278.9,"e":314.4},{"p":4368,"a":277.9,"e":314.4},{"p":4366,"a":277.4,"e":314.4},{"p":4364,"a":276.9,"e":314.4},{"p":4362,"a":277.4,"e":314.4},{"p":4360,"a":278.4,"e":314.4},{"p":4358,"a":281.4,"e":314.4},{"p":4356,"a":283.4,"e":314.4},{"p":4354,"a":284.9,"e":314.4},{"p":4352,"a":287.4,"e":314.4},{"p":4350,"a":289.4,"e":314.4},{"p":4348,"a":290.4,"e":314.4},{"p":4346,"a":290.4,"e":314.4},{"p":4344,"a":290.4,"e":314.4},{"p":4342,"a":291.4,"e":314.4},{"p":4340,"a":292.4,"e":314.4},{"p":4338,"a":293.4,"e":314.4},{"p":4336,"a":294.4,"e":314.4},{"p":4334,"a":294.9,"e":314.4},{"p":4332,"a":296.4,"e":314.4},{"p":4330,"a":298.4,"e":314.4},{"p":4328,"a":298.9,"e":314.4},{"p":4326,"a":299.4,"e":314.4},{"p":4324,"a":300.4,"e":314.4},{"p":4322,"a":297.4,"e":314.4},{"p":4320,"a":298.4,"e":314.4},{"p":4318,"a":297.9,"e":314.4},{"p":4316,"a":297.4,"e":314.4},{"p":4314,"a":295.9,"e":314.4},{"p":4312,"a":294.4,"e":314.4},{"p":4310,"a":294.4,"e":314.4},{"p":4308,"a":294.4,"e":314.4},{"p":4306,"a":298.4,"e":314.4},{"p":4304,"a":300.4,"e":314.4},{"p":4302,"a":299.4,"e":314.4},{"p":4300,"a":298.4,"e":314.4},{"p":4298,"a":296.9,"e":314.4},{"p":4296,"a":296.4,"e":314.4},{"p":4294,"a":295.4,"e":314.4},{"p":4292,"a":294.4,"e":314.4},{"p":4290,"a":292.4,"e":314.4},{"p":4288,"a":290.4,"e":314.4},{"p":4286,"a":290.9,"e":314.4},{"p":4284,"a":291.4,"e":314.4},{"p":4282,"a":291.9,"e":314.4},{"p":4280,"a":292.4,"e":314.4},{"p":4278,"a":292.9,"e":314.4},{"p":4276,"a":293.4,"e":314.4},{"p":4274,"a":291.4,"e":314.4},{"p":4272,"a":291.4,"e":314.4},{"p":4270,"a":293.4,"e":314.4},{"p":4268,"a":295.4,"e":314.4},{"p":4266,"a":295.9,"e":314.4},{"p":4264,"a":296.4,"e":314.4},{"p":4262,"a":296.4,"e":314.4},{"p":4260,"a":296.4,"e":314.4},{"p":4258,"a":296.9,"e":314.4},{"p":4256,"a":297.4,"e":314.4},{"p":4254,"a":298.4,"e":314.4},{"p":4252,"a":299.4,"e":314.4},{"p":4250,"a":297.4,"e":314.4},{"p":4248,"a":296.4,"e":314.4},{"p":4246,"a":296.4,"e":314.4},{"p":4244,"a":296.4,"e":314.4},{"p":4242,"a":296.4,"e":314.4},{"p":4240,"a":296.4,"e":314.4},{"p":4238,"a":297.9,"e":314.4},{"p":4236,"a":298.4,"e":314.4},{"p":4234,"a":296.4,"e":314.4},{"p":4232,"a":296.4,"e":314.4},{"p":4230,"a":296.4,"e":314.4},{"p":4228,"a":295.4,"e":314.4},{"p":4226,"a":293.9,"e":314.4},{"p":4224,"a":292.4,"e":314.4},{"p":4222,"a":292.4,"e":314.4},{"p":4220,"a":294.9,"e":314.4},{"p":4218,"a":295.4,"e":314.4},{"p":4216,"a":297.4,"e":314.4},{"p":4214,"a":299.4,"e":314.4},{"p":4212,"a":300.9,"e":314.4},{"p":4210,"a":300.4,"e":314.4},{"p":4208,"a":300.4,"e":314.4},{"p":4206,"a":301.4,"e":314.4},{"p":4204,"a":301.4,"e":314.4},{"p":4202,"a":301.4,"e":314.4},{"p":4200,"a":301.9,"e":314.4},{"p":4198,"a":302.4,"e":314.4},{"p":4196,"a":301.9,"e":314.4},{"p":4194,"a":301.4,"e":314.4},{"p":4192,"a":301.9,"e":314.4},{"p":4190,"a":302.4,"e":314.4},{"p":4188,"a":299.4,"e":314.4},{"p":4186,"a":299.9,"e":314.4},{"p":4184,"a":300.9,"e":314.4},{"p":4182,"a":301.4,"e":314.4},{"p":4180,"a":300.9,"e":314.4},{"p":4178,"a":300.4,"e":314.4},{"p":4176,"a":301.4,"e":314.4},{"p":4174,"a":302.4,"e":314.4},{"p":4172,"a":302.4,"e":314.4},{"p":4170,"a":302.4,"e":314.4},{"p":4168,"a":301.9,"e":314.4},{"p":4166,"a":300.4,"e":314.4},{"p":4164,"a":300.4,"e":314.4},{"p":4162,"a":298.9,"e":314.4},{"p":4160,"a":297.4,"e":314.4},{"p":4158,"a":296.4,"e":314.4},{"p":4156,"a":295.9,"e":314.4},{"p":4154,"a":295.4,"e":314.4},{"p":4152,"a":294.4,"e":314.4},{"p":4150,"a":293.4,"e":314.4},{"p":4148,"a":291.4,"e":314.4},{"p":4146,"a":291.4,"e":314.4},{"p":4144,"a":291.4,"e":314.4},{"p":4142,"a":290.4,"e":314.4},{"p":4140,"a":289.4,"e":314.4},{"p":4138,"a":289.4,"e":314.4},{"p":4136,"a":286.4,"e":314.4},{"p":4134,"a":283.4,"e":314.4},{"p":4132,"a":285.4,"e":314.4},{"p":4130,"a":285.4,"e":314.4},{"p":4128,"a":286.4,"e":314.4},{"p":4126,"a":286.9,"e":314.4},{"p":4124,"a":287.9,"e":314.4},{"p":4122,"a":289.9,"e":314.4},{"p":4120,"a":290.9,"e":314.4},{"p":4118,"a":291.4,"e":314.4},{"p":4116,"a":293.4,"e":314.4},{"p":4114,"a":295.9,"e":314.4},{"p":4112,"a":296.4,"e":314.4},{"p":4110,"a":298.4,"e":314.4},{"p":4108,"a":301.4,"e":314.4},{"p":4106,"a":304.4,"e":314.4},{"p":4104,"a":307.4,"e":314.4},{"p":4102,"a":308.4,"e":314.4},{"p":4100,"a":308.4,"e":314.4},{"p":4098,"a":308.4,"e":314.4},{"p":4096,"a":309.9,"e":314.4},{"p":4094,"a":310.4,"e":314.4},{"p":4092,"a":309.4,"e":314.4},{"p":4090,"a":309.4,"e":314.4},{"p":4088,"a":307.4,"e":314.4},{"p":4086,"a":307.4,"e":314.4},{"p":4084,"a":308.4,"e":314.4},{"p":4082,"a":308.4,"e":314.4},{"p":4080,"a":306.4,"e":314.4},{"p":4078,"a":307.4,"e":314.4},{"p":4076,"a":308.4,"e":314.4},{"p":4074,"a":309.4,"e":314.4},{"p":4072,"a":308.4,"e":314.4},{"p":4070,"a":308.4,"e":314.4},{"p":4068,"a":310.4,"e":314.4},{"p":4066,"a":310.4,"e":314.4},{"p":4064,"a":310.4,"e":314.4},{"p":4062,"a":310.4,"e":314.4},{"p":4060,"a":310.4,"e":314.4}],
"bandsRed":[
{"s":"u2","i":0,"p":4523},{"s":"u2","i":2.1,"p":4507},{"s":"u2","i":4.8,"p":4492.6},{"s":"u2","i":6.4,"p":4467.9},{"s":"u2","i":7.9,"p":4424.5},{"s":"u2","i":10,"p":4385},{"s":"u2","i":14,"p":4350},{"s":"u2","i":18,"p":4320},{"s":"u2","i":24,"p":4300},{"s":"u2","i":30,"p":4295},{"s":"u2","i":36,"p":4300},{"s":"u2","i":42,"p":4310},{"s":"u2","i":50,"p":4340},{"s":"u2","i":59,"p":4345},{"s":"u2","i":67.4,"p":4375},{"s":"u2","i":72.9,"p":4427},{"s":"u2","i":77,"p":4446},{"s":"u2","i":79,"p":4425},{"s":"u2","i":81,"p":4436},{"s":"u2","i":83,"p":4433},{"s":"u2","i":85,"p":4407},{"s":"u2","i":87,"p":4404},{"s":"u2","i":91,"p":4414},{"s":"u2","i":95.4,"p":4412},{"s":"u2","i":101.6,"p":4404},{"s":"u2","i":106,"p":4410},{"s":"u2","i":109,"p":4404},{"s":"u2","i":111.5,"p":4410},{"s":"u2","i":114.6,"p":4427},{"s":"u2","i":117,"p":4421.5},{"s":"u2","i":121,"p":4432},{"s":"u2","i":122.8,"p":4415},{"s":"u2","i":124,"p":4421.5},{"s":"u2","i":127,"p":4389.5},{"s":"u2","i":129.4,"p":4371},{"s":"u2","i":132.5,"p":4344},{"s":"u2","i":134,"p":4297},{"s":"u2","i":137,"p":4288},{"s":"u2","i":140,"p":4288},{"s":"u2","i":145,"p":4314},{"s":"u2","i":149.6,"p":4305},{"s":"u2","i":152,"p":4272},{"s":"u2","i":153.5,"p":4257.4},{"s":"u2","i":159,"p":4197.6},{"s":"u2","i":161.8,"p":4216},{"s":"u2","i":164.4,"p":4230.7},{"s":"u2","i":166.4,"p":4251},{"s":"u2","i":167.5,"p":4272},{"s":"u2","i":168.7,"p":4287.4},{"s":"u2","i":170.6,"p":4285},{"s":"u2","i":171.8,"p":4302.8},{"s":"u2","i":173.7,"p":4348},{"s":"u2","i":176,"p":4395.7},{"s":"u2","i":179.8,"p":4449.3},{"s":"u2","i":184.8,"p":4473},{"s":"u2","i":186.4,"p":4471},{"s":"u2","i":188.9,"p":4439},{"s":"u2","i":192.4,"p":4422.5},{"s":"u2","i":195,"p":4410},{"s":"u2","i":198.2,"p":4400},{"s":"u2","i":204.9,"p":4406},{"s":"u2","i":208.8,"p":4412},{"s":"u2","i":211.2,"p":4428.7},{"s":"u2","i":215.8,"p":4437},{"s":"u2","i":220,"p":4460},{"s":"u2","i":222,"p":4503},{"s":"u2","i":224.5,"p":4569},{"s":"u2","i":227.5,"p":4602},{"s":"u2","i":233,"p":4602},{"s":"u2","i":234.5,"p":4592},{"s":"u2","i":236.6,"p":4567},{"s":"u2","i":239,"p":4540},{"s":"u2","i":242.7,"p":4528},{"s":"u2","i":245.5,"p":4534},{"s":"u2","i":247.5,"p":4559},{"s":"u2","i":251,"p":4575},{"s":"u2","i":257.3,"p":4585.5},{"s":"u2","i":261.5,"p":4581},{"s":"u2","i":265,"p":4579},{"s":"u2","i":270,"p":4570},{"s":"u2","i":275,"p":4564},{"s":"u2","i":280,"p":4568},{"s":"u2","i":284.6,"p":4589.6},{"s":"u2","i":290,"p":4587},{"s":"u2","i":294,"p":4590},{"s":"u2","i":297.5,"p":4608},{"s":"u2","i":299,"p":4615},{"s":"u2","i":303,"p":4614},{"s":"u2","i":308,"p":4610},{"s":"u2","i":314,"p":4606},
{"s":"u1","i":0.2,"p":4459.6},{"s":"u1","i":4,"p":4453.4},{"s":"u1","i":8.3,"p":4445},{"s":"u1","i":12.2,"p":4432.8},{"s":"u1","i":16.9,"p":4423},{"s":"u1","i":23.9,"p":4406},{"s":"u1","i":29.3,"p":4393.7},{"s":"u1","i":35.5,"p":4377},{"s":"u1","i":42.5,"p":4354.4},{"s":"u1","i":50.3,"p":4329.7},{"s":"u1","i":58.9,"p":4296.6},{"s":"u1","i":61.2,"p":4321.4},{"s":"u1","i":67.4,"p":4344},{"s":"u1","i":71.3,"p":4371},{"s":"u1","i":74.4,"p":4381},{"s":"u1","i":77.5,"p":4395.7},{"s":"u1","i":81.4,"p":4402},{"s":"u1","i":85,"p":4392},{"s":"u1","i":91,"p":4391},{"s":"u1","i":102,"p":4389},{"s":"u1","i":110,"p":4385},{"s":"u1","i":111.5,"p":4389.5},{"s":"u1","i":114.6,"p":4395.7},{"s":"u1","i":117,"p":4391.6},{"s":"u1","i":120,"p":4387.5},{"s":"u1","i":122.8,"p":4375},{"s":"u1","i":124.3,"p":4377},{"s":"u1","i":127.8,"p":4340},{"s":"u1","i":130.6,"p":4327.6},{"s":"u1","i":134,"p":4295},{"s":"u1","i":137,"p":4270},{"s":"u1","i":139.9,"p":4264.6},{"s":"u1","i":143.4,"p":4269.8},{"s":"u1","i":145,"p":4275},{"s":"u1","i":149.6,"p":4261.6},{"s":"u1","i":153.5,"p":4230.6},{"s":"u1","i":158.8,"p":4179},{"s":"u1","i":160.8,"p":4185},{"s":"u1","i":162.8,"p":4195},{"s":"u1","i":164.9,"p":4203.6},{"s":"u1","i":166.4,"p":4207},{"s":"u1","i":171.4,"p":4230.6},{"s":"u1","i":173.7,"p":4259.5},{"s":"u1","i":176,"p":4292.5},{"s":"u1","i":180,"p":4371},{"s":"u1","i":181.9,"p":4397.8},{"s":"u1","i":184.6,"p":4410},{"s":"u1","i":187,"p":4417},{"s":"u1","i":189.7,"p":4401.8},{"s":"u1","i":193.5,"p":4397.7},{"s":"u1","i":197,"p":4402},{"s":"u1","i":202,"p":4406},{"s":"u1","i":208.8,"p":4410},{"s":"u1","i":211.2,"p":4425},{"s":"u1","i":215.8,"p":4447},{"s":"u1","i":220,"p":4457},{"s":"u1","i":224.5,"p":4540},{"s":"u1","i":228.3,"p":4552.5},{"s":"u1","i":230.4,"p":4557.7},{"s":"u1","i":233.8,"p":4559.7},{"s":"u1","i":235.9,"p":4552.5},{"s":"u1","i":239.3,"p":4532},{"s":"u1","i":242.7,"p":4527.7},{"s":"u1","i":247,"p":4545},{"s":"u1","i":255,"p":4560},{"s":"u1","i":262,"p":4563},{"s":"u1","i":270,"p":4562},{"s":"u1","i":278,"p":4563},{"s":"u1","i":284,"p":4570},{"s":"u1","i":292,"p":4576},{"s":"u1","i":298,"p":4595},{"s":"u1","i":303,"p":4592},{"s":"u1","i":310,"p":4592},{"s":"u1","i":314,"p":4590},
{"s":"m","i":0,"p":4400},{"s":"m","i":20,"p":4385},{"s":"m","i":40,"p":4345},{"s":"m","i":60,"p":4310},{"s":"m2","i":119,"p":4302},{"s":"m2","i":121.2,"p":4300.8},{"s":"m2","i":127,"p":4296.6},{"s":"m2","i":134,"p":4292.5},{"s":"m2","i":140.3,"p":4287.4},{"s":"m2","i":145,"p":4281},{"s":"m2","i":149.6,"p":4274},{"s":"m2","i":155.8,"p":4272},{"s":"m2","i":161.3,"p":4263.6},{"s":"m2","i":171.4,"p":4257.4}],
"bandsGreen":[
{"s":"m","i":60,"p":4310},{"s":"m","i":70,"p":4305},{"s":"m","i":78,"p":4300},{"s":"m","i":85,"p":4302},{"s":"m","i":90,"p":4299},{"s":"m","i":95,"p":4297},{"s":"m","i":105,"p":4302},{"s":"m","i":112,"p":4303},{"s":"m","i":119,"p":4302},{"s":"m2","i":171.4,"p":4257.4},{"s":"m2","i":177.6,"p":4253.3},{"s":"m2","i":184.6,"p":4252.3},{"s":"m2","i":190.8,"p":4249},{"s":"m2","i":199.4,"p":4248},{"s":"m2","i":208.7,"p":4244},{"s":"m2","i":214.1,"p":4244},{"s":"m2","i":220,"p":4248},{"s":"m2","i":222.7,"p":4256.4},{"s":"m2","i":225.8,"p":4263.6},{"s":"m2","i":230.5,"p":4272},{"s":"m2","i":233.4,"p":4282},{"s":"m2","i":240,"p":4300},{"s":"m2","i":250,"p":4350},{"s":"m2","i":258,"p":4390},{"s":"m2","i":266.2,"p":4420},{"s":"m2","i":273.6,"p":4451},{"s":"m2","i":281,"p":4465.8},{"s":"m2","i":286.5,"p":4479},{"s":"m2","i":294.8,"p":4499},{"s":"m2","i":299.4,"p":4511},{"s":"m2","i":305,"p":4521.5},{"s":"m2","i":310.5,"p":4534},{"s":"m2","i":314,"p":4538},
{"s":"l1","i":0,"p":4350},{"s":"l1","i":6,"p":4310},{"s":"l1","i":12,"p":4275},{"s":"l1","i":20,"p":4250},{"s":"l1","i":28,"p":4230},{"s":"l1","i":38,"p":4205},{"s":"l1","i":46,"p":4185},{"s":"l1","i":53,"p":4179},{"s":"l1","i":59,"p":4191},{"s":"l1","i":67.4,"p":4206},{"s":"l1","i":74.4,"p":4228.5},{"s":"l1","i":77.5,"p":4251},{"s":"l1","i":79,"p":4272},{"s":"l1","i":80.6,"p":4303},{"s":"l1","i":85.3,"p":4313},{"s":"l1","i":90,"p":4313},{"s":"l1","i":96,"p":4308},{"s":"l1","i":102,"p":4310},{"s":"l1","i":108,"p":4313},{"s":"l1","i":112,"p":4305},{"s":"l1","i":115,"p":4280},{"s":"l1","i":120,"p":4245},{"s":"l1","i":125,"p":4215},{"s":"l1","i":130,"p":4205},{"s":"l1","i":134.4,"p":4200.5},{"s":"l1","i":136.7,"p":4199.5},{"s":"l1","i":140,"p":4168.5},{"s":"l1","i":142,"p":4148},{"s":"l1","i":144,"p":4127},{"s":"l1","i":148.6,"p":4112.8},{"s":"l1","i":149.9,"p":4092},{"s":"l1","i":152,"p":4085},{"s":"l1","i":154.7,"p":4092},{"s":"l1","i":158.8,"p":4106.6},{"s":"l1","i":161.8,"p":4104.6},{"s":"l1","i":163.9,"p":4098.4},{"s":"l1","i":165.9,"p":4097.3},{"s":"l1","i":167.4,"p":4091},{"s":"l1","i":169,"p":4089},{"s":"l1","i":170.7,"p":4119},{"s":"l1","i":172,"p":4121},{"s":"l1","i":173.5,"p":4108.7},{"s":"l1","i":176,"p":4121},{"s":"l1","i":177.8,"p":4124.8},{"s":"l1","i":180.1,"p":4122},{"s":"l1","i":184,"p":4180},{"s":"l1","i":187.7,"p":4230.6},{"s":"l1","i":191.6,"p":4292.5},{"s":"l1","i":194,"p":4330},{"s":"l1","i":197,"p":4345},{"s":"l1","i":204,"p":4350},{"s":"l1","i":210,"p":4340},{"s":"l1","i":216,"p":4345},{"s":"l1","i":220,"p":4360},{"s":"l1","i":222,"p":4400},{"s":"l1","i":225,"p":4430},{"s":"l1","i":229.4,"p":4465.8},{"s":"l1","i":233.8,"p":4484},{"s":"l1","i":236.2,"p":4492.6},{"s":"l1","i":240.3,"p":4503},{"s":"l1","i":245.9,"p":4507},{"s":"l1","i":252.3,"p":4521.5},{"s":"l1","i":257.9,"p":4534},{"s":"l1","i":264.3,"p":4546},{"s":"l1","i":269.9,"p":4550.4},{"s":"l1","i":275.4,"p":4542},{"s":"l1","i":282.8,"p":4542},{"s":"l1","i":288.3,"p":4537},{"s":"l1","i":297.5,"p":4534},{"s":"l1","i":304.9,"p":4538},{"s":"l1","i":310.5,"p":4536},{"s":"l1","i":314,"p":4537},
{"s":"l2","i":0,"p":4340},{"s":"l2","i":6,"p":4290},{"s":"l2","i":12,"p":4240},{"s":"l2","i":20,"p":4210},{"s":"l2","i":28,"p":4170},{"s":"l2","i":38,"p":4130},{"s":"l2","i":46,"p":4100},{"s":"l2","i":55,"p":4088},{"s":"l2","i":65,"p":4095},{"s":"l2","i":72,"p":4130},{"s":"l2","i":77.5,"p":4177},{"s":"l2","i":79,"p":4193},{"s":"l2","i":81.4,"p":4251},{"s":"l2","i":83,"p":4272},{"s":"l2","i":85,"p":4292},{"s":"l2","i":90.7,"p":4290.5},{"s":"l2","i":97.8,"p":4283},{"s":"l2","i":102,"p":4294},{"s":"l2","i":107.5,"p":4292},{"s":"l2","i":112,"p":4288},{"s":"l2","i":114,"p":4255},{"s":"l2","i":116,"p":4239},{"s":"l2","i":119,"p":4210},{"s":"l2","i":121,"p":4177},{"s":"l2","i":126,"p":4165},{"s":"l2","i":130,"p":4175},{"s":"l2","i":134.4,"p":4181.3},{"s":"l2","i":136.4,"p":4183},{"s":"l2","i":138,"p":4162.3},{"s":"l2","i":141,"p":4143.8},{"s":"l2","i":142.8,"p":4127},{"s":"l2","i":143.8,"p":4096},{"s":"l2","i":145,"p":4081.8},{"s":"l2","i":148.1,"p":4073.6},{"s":"l2","i":149.4,"p":4057},{"s":"l2","i":153.7,"p":4057},{"s":"l2","i":156.2,"p":4073.6},{"s":"l2","i":158.8,"p":4088},{"s":"l2","i":161.3,"p":4083.9},{"s":"l2","i":163.9,"p":4073.6},{"s":"l2","i":165.9,"p":4071.5},{"s":"l2","i":167.4,"p":4057},{"s":"l2","i":169.2,"p":4057},{"s":"l2","i":170.7,"p":4087},{"s":"l2","i":172,"p":4087.6},{"s":"l2","i":173,"p":4068.4},{"s":"l2","i":173.8,"p":4061},{"s":"l2","i":176,"p":4071.5},{"s":"l2","i":177.8,"p":4074},{"s":"l2","i":180.1,"p":4057},{"s":"l2","i":186,"p":4120},{"s":"l2","i":190,"p":4195},{"s":"l2","i":194,"p":4300},{"s":"l2","i":197.8,"p":4338},{"s":"l2","i":199,"p":4340},{"s":"l2","i":204,"p":4336},{"s":"l2","i":209.5,"p":4323},{"s":"l2","i":215,"p":4317},{"s":"l2","i":220,"p":4308},{"s":"l2","i":223,"p":4307},{"s":"l2","i":228,"p":4340},{"s":"l2","i":232.8,"p":4375},{"s":"l2","i":236,"p":4420},{"s":"l2","i":240.3,"p":4486.4},{"s":"l2","i":245.9,"p":4482},{"s":"l2","i":247.7,"p":4466.8},{"s":"l2","i":253.3,"p":4472},{"s":"l2","i":257.9,"p":4494.7},{"s":"l2","i":264.3,"p":4513},{"s":"l2","i":269.9,"p":4531.8},{"s":"l2","i":274.5,"p":4542},{"s":"l2","i":282.8,"p":4525.6},{"s":"l2","i":288.3,"p":4527.7},{"s":"l2","i":292,"p":4523.6},{"s":"l2","i":297.5,"p":4522.6},{"s":"l2","i":304.9,"p":4527.7},{"s":"l2","i":310,"p":4535},{"s":"l2","i":314,"p":4540}],
"stepRed":[
{"i":31.6,"p":4330.7},{"i":37.1,"p":4330.7},{"i":37.9,"p":4317.7},{"i":43.3,"p":4317.7},{"i":44.1,"p":4297.7},{"i":48.9,"p":4297.7},{"i":49.9,"p":4259.5},{"i":58.9,"p":4259.5},{"i":61,"p":4321},{"i":66,"p":4321},{"i":67.4,"p":4340},{"i":72,"p":4340},{"i":74,"p":4384.4},{"i":85,"p":4384.4},{"i":86,"p":4396.8},{"i":90.7,"p":4396.8},{"i":92,"p":4375},{"i":97,"p":4375},{"i":98,"p":4383.3},{"i":103,"p":4383.3},{"i":104,"p":4393.2},{"i":109,"p":4393.2},{"i":110,"p":4369.3},{"i":115,"p":4369.3},{"i":115.8,"p":4337.5},{"i":120.8,"p":4337.5},{"i":121.8,"p":4275.6},{"i":126.8,"p":4275.6},{"i":127.8,"p":4254.3},{"i":132.9,"p":4254.3},{"i":133.9,"p":4264.6},{"i":138.9,"p":4264.6},{"i":139.9,"p":4248.8},{"i":145,"p":4248.8},{"i":145.8,"p":4180.5},{"i":150.9,"p":4180.5},{"i":152,"p":4161.3},{"i":157,"p":4161.3},{"i":157.8,"p":4175.8},{"i":162.8,"p":4175.8},{"i":163.9,"p":4193.3},{"i":168.9,"p":4193.3},{"i":170,"p":4243.9},{"i":175,"p":4243.9},{"i":175.9,"p":4319.4},{"i":180.7,"p":4319.4},{"i":181.9,"p":4371.4},{"i":192,"p":4371.4},{"i":193.5,"p":4386.4},{"i":198.6,"p":4386.4},{"i":199.8,"p":4391},{"i":202.9,"p":4391},{"i":205.6,"p":4396.8},{"i":210.3,"p":4396.8},{"i":211.8,"p":4418.8},{"i":216.5,"p":4418.8},{"i":217.7,"p":4422.6},{"i":222.7,"p":4422.6},{"i":224,"p":4509.6},{"i":229,"p":4509.6},{"i":230,"p":4525.3},{"i":234.9,"p":4525.3},{"i":236,"p":4515},{"i":241,"p":4515},{"i":241.7,"p":4524.6},{"i":246.1,"p":4524.6},{"i":247.9,"p":4557.7},{"i":252.9,"p":4557.7},{"i":253.9,"p":4554.6},{"i":259,"p":4554.6},{"i":259.8,"p":4568.6},{"i":263.9,"p":4568.6},{"i":265,"p":4563.8},{"i":269.2,"p":4563.8},{"i":270,"p":4561.8},{"i":279.4,"p":4560},{"i":282,"p":4570},{"i":286,"p":4572},{"i":287.5,"p":4589.6},{"i":292.9,"p":4589.6},{"i":293.4,"p":4568},{"i":297.5,"p":4568},{"i":299.8,"p":4599.5},{"i":310.9,"p":4599.5},{"i":312,"p":4588},{"i":314,"p":4588}],
"stepOrange":[
{"i":50,"p":4255},{"i":54.8,"p":4255},{"i":55.8,"p":4250},{"i":61,"p":4250},{"i":62,"p":4263.6},{"i":67,"p":4263.6},{"i":68,"p":4302.4},{"i":72.9,"p":4302.4},{"i":74,"p":4362},{"i":85,"p":4362},{"i":86,"p":4362},{"i":90.7,"p":4362},{"i":92,"p":4341.4},{"i":97,"p":4341.4},{"i":98,"p":4353.4},{"i":103,"p":4353.4},{"i":104,"p":4364.3},{"i":109,"p":4364.3},{"i":110,"p":4335.5},{"i":115,"p":4335.5},{"i":115.8,"p":4300.8},{"i":120.8,"p":4300.8},{"i":121.8,"p":4245.5},{"i":126.8,"p":4245.5},{"i":127.8,"p":4220.9},{"i":132.9,"p":4220.9},{"i":133.9,"p":4240.9},{"i":138.9,"p":4240.9},{"i":139.9,"p":4214},{"i":145,"p":4214},{"i":145.8,"p":4152},{"i":150.9,"p":4152},{"i":152,"p":4130.4},{"i":157,"p":4130.4},{"i":157.8,"p":4148.7},{"i":162.8,"p":4148.7},{"i":163.9,"p":4169.6},{"i":168.9,"p":4169.6},{"i":170,"p":4207.3},{"i":175,"p":4207.3},{"i":175.9,"p":4279.5},{"i":180.7,"p":4279.5},{"i":181.9,"p":4339.4},{"i":186.8,"p":4339.4},{"i":188,"p":4359},{"i":192,"p":4359},{"i":193.5,"p":4367.9},{"i":198.6,"p":4367.9},{"i":199.8,"p":4375},{"i":204.4,"p":4375},{"i":205.6,"p":4369},{"i":208.7,"p":4369},{"i":211.8,"p":4378.6},{"i":216.8,"p":4378.6},{"i":217.7,"p":4407.7},{"i":222.8,"p":4407.7},{"i":224,"p":4458.6},{"i":229,"p":4458.6},{"i":230,"p":4510.6},{"i":235.2,"p":4510.6},{"i":235.9,"p":4500.5},{"i":241,"p":4500.5},{"i":242,"p":4511},{"i":246.8,"p":4511},{"i":247.9,"p":4532.5},{"i":252.2,"p":4532.5},{"i":253.9,"p":4539.5},{"i":259,"p":4539.5},{"i":259.8,"p":4550},{"i":263.9,"p":4550},{"i":264.8,"p":4556.5},{"i":269.9,"p":4556.5},{"i":270.6,"p":4557.7},{"i":274.7,"p":4557.7},{"i":274.8,"p":4555.6},{"i":279.8,"p":4555.6},{"i":281.8,"p":4554.6},{"i":286.2,"p":4554.6},{"i":287.6,"p":4568.6},{"i":293,"p":4568.6},{"i":293.7,"p":4555},{"i":298.5,"p":4555},{"i":299.8,"p":4577.3},{"i":305.4,"p":4577.3},{"i":305.8,"p":4572.5},{"i":311,"p":4572.5},{"i":311.8,"p":4565.5},{"i":314,"p":4565.5}],
"stepGreen":[
{"i":46,"p":4214},{"i":48.9,"p":4214},{"i":50,"p":4198.6},{"i":54.8,"p":4198.6},{"i":55.8,"p":4220},{"i":61,"p":4220},{"i":62,"p":4205.4},{"i":67,"p":4205.4},{"i":68,"p":4264.7},{"i":72.9,"p":4264.7},{"i":74,"p":4332.2},{"i":79,"p":4332.2},{"i":79.9,"p":4343.7},{"i":85,"p":4343.7},{"i":86,"p":4322.4},{"i":90.7,"p":4322.4},{"i":92,"p":4308},{"i":97,"p":4308},{"i":98,"p":4323.5},{"i":103,"p":4323.5},{"i":104,"p":4335.9},{"i":109,"p":4335.9},{"i":110,"p":4301.8},{"i":115,"p":4301.8},{"i":115.8,"p":4264},{"i":120.8,"p":4264},{"i":121.8,"p":4215.1},{"i":126.8,"p":4215.1},{"i":127.8,"p":4187.3},{"i":132.9,"p":4187.3},{"i":133.9,"p":4216.8},{"i":138.9,"p":4216.8},{"i":139.9,"p":4179},{"i":145,"p":4179},{"i":145.8,"p":4123.5},{"i":150.9,"p":4123.5},{"i":152,"p":4098.8},{"i":157,"p":4098.8},{"i":157.8,"p":4121.9},{"i":162.8,"p":4121.9},{"i":163.9,"p":4145.4},{"i":168.9,"p":4145.4},{"i":170,"p":4170.6},{"i":175,"p":4170.6},{"i":176,"p":4239.8},{"i":180.7,"p":4239.8},{"i":181.9,"p":4307},{"i":186.8,"p":4307},{"i":187.9,"p":4347.2},{"i":193,"p":4347.2},{"i":193.9,"p":4349.3},{"i":198.6,"p":4349.3},{"i":199.8,"p":4359},{"i":204.4,"p":4359},{"i":205.6,"p":4341},{"i":211,"p":4338},{"i":211.8,"p":4338},{"i":216.8,"p":4338},{"i":217.7,"p":4393},{"i":222.8,"p":4393},{"i":224,"p":4408},{"i":229,"p":4408},{"i":230,"p":4496.4},{"i":235,"p":4496.4},{"i":235.9,"p":4486.5},{"i":240.6,"p":4486.5},{"i":241.7,"p":4497.8},{"i":246.8,"p":4497.8},{"i":247.9,"p":4508.3},{"i":252.5,"p":4508.3},{"i":253.6,"p":4524.6},{"i":259,"p":4524.6},{"i":259.8,"p":4531.5},{"i":263.9,"p":4531.5},{"i":264.8,"p":4550.8},{"i":269.9,"p":4550.8},{"i":270.6,"p":4550.8},{"i":275,"p":4550.8},{"i":275.7,"p":4543.8},{"i":280.8,"p":4543.8},{"i":281.8,"p":4539.5},{"i":287.3,"p":4539.5},{"i":287.6,"p":4548.4},{"i":292.3,"p":4548.4},{"i":293,"p":4537},{"i":298.5,"p":4537},{"i":300,"p":4555},{"i":305.6,"p":4555},{"i":305.9,"p":4548.4},{"i":311.4,"p":4548.4},{"i":312,"p":4550.8},{"i":314,"p":4550.8}],
"rsi":[
{"k":1,"s":"d","i":-0.1,"v":-59.8},{"k":1,"s":"d","i":1,"v":-76.6},{"k":1,"s":"d","i":2.5,"v":-70.4},{"k":1,"s":"d","i":3.4,"v":-62.3},{"k":1,"s":"d","i":4.6,"v":-53.6},{"k":1,"s":"d","i":5.7,"v":-42.3},{"k":1,"s":"d","i":7.1,"v":-26.1},{"k":1,"s":"d","i":8.9,"v":-26.1},{"k":1,"s":"d","i":9.8,"v":-9.9},{"k":1,"s":"d","i":11,"v":-23.7},{"k":1,"s":"d","i":12,"v":-44.2},{"k":1,"s":"d","i":13,"v":-47.3},{"k":1,"s":"d","i":14.4,"v":-36.1},{"k":1,"s":"d","i":15.9,"v":-24.9},{"k":1,"s":"d","i":16.8,"v":-34.9},{"k":1,"s":"d","i":17.9,"v":-54.8},{"k":1,"s":"d","i":18.8,"v":-19.3},{"k":1,"s":"d","i":20,"v":-21.8},{"k":1,"s":"d","i":21.7,"v":-41.1},{"k":1,"s":"d","i":22.9,"v":-28.6},{"k":1,"s":"d","i":24.3,"v":-9.9},{"k":1,"s":"d","i":25.6,"v":-8.1},
{"k":2,"s":"u","i":25.6,"v":-8.1},{"k":2,"s":"u","i":27,"v":13.7},{"k":2,"s":"u","i":27.9,"v":27.4},{"k":2,"s":"u","i":28.8,"v":28},
{"k":3,"s":"d","i":28.8,"v":28},{"k":3,"s":"d","i":29.9,"v":-9.9},
{"k":4,"s":"u","i":29.9,"v":-9.9},{"k":4,"s":"u","i":31.4,"v":10.6},{"k":4,"s":"u","i":32.8,"v":26.2},{"k":4,"s":"u","i":34,"v":4.4},
{"k":5,"s":"d","i":34,"v":4.4},{"k":5,"s":"d","i":35.8,"v":-8.1},
{"k":6,"s":"u","i":35.8,"v":-8.1},{"k":6,"s":"u","i":36.6,"v":7.5},{"k":6,"s":"u","i":37.7,"v":6.3},
{"k":7,"s":"d","i":37.7,"v":6.3},{"k":7,"s":"d","i":38.9,"v":-6.2},{"k":7,"s":"d","i":41,"v":-6.2},{"k":7,"s":"d","i":42.1,"v":-28.6},{"k":7,"s":"d","i":44,"v":-44.2},{"k":7,"s":"d","i":45,"v":-28},{"k":7,"s":"d","i":46,"v":-28.6},{"k":7,"s":"d","i":47,"v":-39.2},{"k":7,"s":"d","i":48,"v":-36.1},{"k":7,"s":"d","i":49.1,"v":-17.4},{"k":7,"s":"d","i":50.9,"v":-3.7},{"k":7,"s":"d","i":52,"v":-26.1},{"k":7,"s":"d","i":53.2,"v":-17.4},{"k":7,"s":"d","i":54.4,"v":-16.2},{"k":7,"s":"d","i":55.5,"v":-23.7},{"k":7,"s":"d","i":55.9,"v":-16.2},
{"k":8,"s":"u","i":55.9,"v":-16.2},{"k":8,"s":"u","i":56.8,"v":24.9},{"k":8,"s":"u","i":57.9,"v":32.4},{"k":8,"s":"u","i":59,"v":7.5},{"k":8,"s":"u","i":60,"v":46.1},{"k":8,"s":"u","i":61,"v":41.8},{"k":8,"s":"u","i":62.2,"v":13.7},{"k":8,"s":"u","i":63.1,"v":20},{"k":8,"s":"u","i":64.3,"v":13.7},{"k":8,"s":"u","i":65.4,"v":26.2},{"k":8,"s":"u","i":66.8,"v":39.9},{"k":8,"s":"u","i":69,"v":37.4},{"k":8,"s":"u","i":70.7,"v":39.9},{"k":8,"s":"u","i":71.9,"v":49.9},{"k":8,"s":"u","i":73,"v":37.4},{"k":8,"s":"u","i":73.8,"v":62.3},{"k":8,"s":"u","i":74.8,"v":35.5},{"k":8,"s":"u","i":76,"v":39.9},{"k":8,"s":"u","i":76.9,"v":81},{"k":8,"s":"u","i":78,"v":54.2},{"k":8,"s":"u","i":79.1,"v":65.4},{"k":8,"s":"u","i":80.8,"v":51.1},{"k":8,"s":"u","i":81.8,"v":51.1},{"k":8,"s":"u","i":82.7,"v":20},
{"k":9,"s":"d","i":82.7,"v":20},{"k":9,"s":"d","i":83.9,"v":-3.7},
{"k":10,"s":"u","i":83.9,"v":-3.7},{"k":10,"s":"u","i":85.8,"v":4.4},
{"k":11,"s":"d","i":85.8,"v":4.4},{"k":11,"s":"d","i":87.8,"v":-14.3},
{"k":12,"s":"u","i":87.8,"v":-14.3},{"k":12,"s":"u","i":88.8,"v":7.5},
{"k":13,"s":"d","i":88.8,"v":7.5},{"k":13,"s":"d","i":90.5,"v":-20.5},{"k":13,"s":"d","i":92.8,"v":-6.2},{"k":13,"s":"d","i":93.8,"v":-24.9},{"k":13,"s":"d","i":96.3,"v":-3.7},
{"k":14,"s":"u","i":96.3,"v":-3.7},{"k":14,"s":"u","i":99,"v":18.1},{"k":14,"s":"u","i":100.8,"v":-8.1},{"k":14,"s":"u","i":102.8,"v":16.8},{"k":14,"s":"u","i":103.7,"v":-5},{"k":14,"s":"u","i":105.1,"v":31.2},{"k":14,"s":"u","i":106.3,"v":20},{"k":14,"s":"u","i":107.4,"v":4.4},
{"k":15,"s":"d","i":107.4,"v":4.4},{"k":15,"s":"d","i":108.8,"v":-8.1},{"k":15,"s":"d","i":111,"v":-50.4},{"k":15,"s":"d","i":112.9,"v":-33},{"k":15,"s":"d","i":115,"v":-49.8},{"k":15,"s":"d","i":116,"v":-41.1},{"k":15,"s":"d","i":117.6,"v":-68.5},{"k":15,"s":"d","i":118.8,"v":-71.6},{"k":15,"s":"d","i":120.5,"v":-85.9},{"k":15,"s":"d","i":122,"v":-66},{"k":15,"s":"d","i":123.5,"v":-70.4},{"k":15,"s":"d","i":125.8,"v":-28.6},{"k":15,"s":"d","i":128,"v":-44.2},{"k":15,"s":"d","i":130.2,"v":-9.9},{"k":15,"s":"d","i":131.3,"v":-8.1},{"k":15,"s":"d","i":132.5,"v":-9.9},{"k":15,"s":"d","i":134.8,"v":-9.9},
{"k":16,"s":"u","i":134.8,"v":-9.9},{"k":16,"s":"u","i":135.8,"v":7.5},
{"k":17,"s":"d","i":135.8,"v":7.5},{"k":17,"s":"d","i":137.7,"v":-20.5},{"k":17,"s":"d","i":138.9,"v":-1.8},{"k":17,"s":"d","i":141,"v":-51.7},{"k":17,"s":"d","i":142.6,"v":-36.1},{"k":17,"s":"d","i":144.7,"v":-64.1},{"k":17,"s":"d","i":146.7,"v":-45.5},{"k":17,"s":"d","i":148.2,"v":-62.3},{"k":17,"s":"d","i":150,"v":-69.1},{"k":17,"s":"d","i":151.1,"v":-61},{"k":17,"s":"d","i":152.9,"v":-33},{"k":17,"s":"d","i":154.5,"v":-20.5},
{"k":18,"s":"u","i":154.5,"v":-20.5},{"k":18,"s":"u","i":156,"v":7.5},{"k":18,"s":"u","i":157,"v":3.1},
{"k":19,"s":"d","i":157,"v":3.1},{"k":19,"s":"d","i":157.8,"v":-6.2},
{"k":20,"s":"u","i":157.8,"v":-6.2},{"k":20,"s":"u","i":159.7,"v":23},{"k":20,"s":"u","i":160.8,"v":9.4},{"k":20,"s":"u","i":161.9,"v":20},{"k":20,"s":"u","i":163.2,"v":18.7},{"k":20,"s":"u","i":164.6,"v":60.5},{"k":20,"s":"u","i":165.7,"v":44.9},{"k":20,"s":"u","i":166.9,"v":54.2},{"k":20,"s":"u","i":168.6,"v":54.2},{"k":20,"s":"u","i":169.8,"v":58.6},{"k":20,"s":"u","i":171,"v":48},{"k":20,"s":"u","i":172.5,"v":71},{"k":20,"s":"u","i":173.7,"v":76},{"k":20,"s":"u","i":175.5,"v":74.8},{"k":20,"s":"u","i":176.7,"v":69.8},{"k":20,"s":"u","i":178.6,"v":79.1},{"k":20,"s":"u","i":181,"v":85.4},{"k":20,"s":"u","i":182.8,"v":79.1},{"k":20,"s":"u","i":185.2,"v":76},{"k":20,"s":"u","i":187.1,"v":63.6},{"k":20,"s":"u","i":188.3,"v":41.8},{"k":20,"s":"u","i":190.1,"v":36.8},{"k":20,"s":"u","i":192.5,"v":52.4},{"k":20,"s":"u","i":193.4,"v":38.6},{"k":20,"s":"u","i":195,"v":3.1},{"k":20,"s":"u","i":196.8,"v":32.4},{"k":20,"s":"u","i":198,"v":12.5},{"k":20,"s":"u","i":199.8,"v":13.7},{"k":20,"s":"u","i":201,"v":36.8},{"k":20,"s":"u","i":202.6,"v":34.3},{"k":20,"s":"u","i":203.8,"v":7.5},
{"k":21,"s":"d","i":203.8,"v":7.5},{"k":21,"s":"d","i":205.3,"v":-11.2},{"k":21,"s":"d","i":207.5,"v":-34.9},{"k":21,"s":"d","i":208.7,"v":-12.4},
{"k":22,"s":"u","i":208.7,"v":-12.4},{"k":22,"s":"u","i":209.9,"v":21.2},{"k":22,"s":"u","i":211.7,"v":5.6},{"k":22,"s":"u","i":213.8,"v":23},{"k":22,"s":"u","i":215.2,"v":10.6},{"k":22,"s":"u","i":216.2,"v":20},{"k":22,"s":"u","i":217.7,"v":13.7},{"k":22,"s":"u","i":219.2,"v":38.6},{"k":22,"s":"u","i":221.1,"v":76},{"k":22,"s":"u","i":222.9,"v":79.1},{"k":22,"s":"u","i":224.7,"v":69.8},{"k":22,"s":"u","i":227.1,"v":74.8},{"k":22,"s":"u","i":229,"v":57.3},{"k":22,"s":"u","i":230.2,"v":68.6},{"k":22,"s":"u","i":232.8,"v":67.9},{"k":22,"s":"u","i":233.8,"v":51.1},{"k":22,"s":"u","i":235,"v":60.5},{"k":22,"s":"u","i":235.9,"v":26.2},{"k":22,"s":"u","i":237.8,"v":21.2},
{"k":23,"s":"d","i":237.8,"v":21.2},{"k":23,"s":"d","i":239,"v":-1.8},{"k":23,"s":"d","i":239.9,"v":7.5},{"k":23,"s":"d","i":240.9,"v":-5},{"k":23,"s":"d","i":241.9,"v":7.5},{"k":23,"s":"d","i":242.9,"v":-3.7},
{"k":24,"s":"u","i":242.9,"v":-3.7},{"k":24,"s":"u","i":244.7,"v":29.3},{"k":24,"s":"u","i":246.6,"v":37.4},{"k":24,"s":"u","i":247.8,"v":36.8},{"k":24,"s":"u","i":249,"v":54.2},{"k":24,"s":"u","i":250.8,"v":20},{"k":24,"s":"u","i":252,"v":26.2},{"k":24,"s":"u","i":253,"v":13.7},{"k":24,"s":"u","i":254.2,"v":35.5},{"k":24,"s":"u","i":255,"v":21.2},{"k":24,"s":"u","i":256.3,"v":39.9},{"k":24,"s":"u","i":257.8,"v":49.9},{"k":24,"s":"u","i":260.5,"v":20},{"k":24,"s":"u","i":262.9,"v":5.6},{"k":24,"s":"u","i":264.2,"v":13.7},{"k":24,"s":"u","i":266,"v":51.1},{"k":24,"s":"u","i":267.8,"v":48},{"k":24,"s":"u","i":269.6,"v":26.2},
{"k":25,"s":"d","i":269.6,"v":26.2},{"k":25,"s":"d","i":270.8,"v":-1.8},{"k":25,"s":"d","i":271.8,"v":8.7},{"k":25,"s":"d","i":273,"v":-15.6},{"k":25,"s":"d","i":273.9,"v":8.7},{"k":25,"s":"d","i":275.1,"v":-1.8},{"k":25,"s":"d","i":276.9,"v":-5},{"k":25,"s":"d","i":279,"v":-26.8},{"k":25,"s":"d","i":280.5,"v":-5},{"k":25,"s":"d","i":281.8,"v":-1.8},
{"k":26,"s":"u","i":281.8,"v":-1.8},{"k":26,"s":"u","i":284,"v":16.8},{"k":26,"s":"u","i":284.8,"v":49.2},{"k":26,"s":"u","i":285.8,"v":21.2},
{"k":27,"s":"d","i":285.8,"v":21.2},{"k":27,"s":"d","i":286.9,"v":-3.7},
{"k":28,"s":"u","i":286.9,"v":-3.7},{"k":28,"s":"u","i":287.8,"v":4.4},{"k":28,"s":"u","i":288.8,"v":1.3},{"k":28,"s":"u","i":289.7,"v":9.4},
{"k":29,"s":"d","i":289.7,"v":9.4},{"k":29,"s":"d","i":291.8,"v":-13.1},
{"k":30,"s":"u","i":291.8,"v":-13.1},{"k":30,"s":"u","i":293.9,"v":20},{"k":30,"s":"u","i":296.6,"v":4.4},{"k":30,"s":"u","i":298.2,"v":20},{"k":30,"s":"u","i":299.7,"v":-0.6},{"k":30,"s":"u","i":301.8,"v":29.3},{"k":30,"s":"u","i":303,"v":4.4},{"k":30,"s":"u","i":306.6,"v":7.5},{"k":30,"s":"u","i":307,"v":15.6},
{"k":31,"s":"d","i":307,"v":15.6},{"k":31,"s":"d","i":308.1,"v":-11.2},{"k":31,"s":"d","i":309.1,"v":-11.2},
{"k":32,"s":"u","i":309.1,"v":-11.2},{"k":32,"s":"u","i":309.9,"v":2.5},
{"k":33,"s":"d","i":309.9,"v":2.5},{"k":33,"s":"d","i":310.9,"v":-1.8},
{"k":34,"s":"u","i":310.9,"v":-1.8},{"k":34,"s":"u","i":311.9,"v":18.7},
{"k":35,"s":"d","i":311.9,"v":18.7},{"k":35,"s":"d","i":314,"v":-20.5}],
"fg":[{"i":-0.1,"v":23},{"i":1.3,"v":30.6},{"i":2.5,"v":66.1},{"i":3.9,"v":88.9},{"i":5.4,"v":91.5},{"i":6.9,"v":97.5},{"i":8.3,"v":88.9},{"i":9.7,"v":68.6},{"i":11.2,"v":56},{"i":12.4,"v":38.2},{"i":13.6,"v":24},{"i":15.9,"v":40.8},{"i":16.8,"v":40.8},{"i":18,"v":33.2},{"i":19.4,"v":56},{"i":20.9,"v":97.5},{"i":22.3,"v":95.5},{"i":24.6,"v":97.5},{"i":26.4,"v":95.5},{"i":28.7,"v":99.1},{"i":30.5,"v":76.2},{"i":32.2,"v":66.1},{"i":34,"v":56},{"i":35.7,"v":35.7},{"i":38,"v":34.7},{"i":39.8,"v":38.2},{"i":41.5,"v":28.1},{"i":43.5,"v":7.8},{"i":45,"v":7.8},{"i":46.8,"v":25.6},{"i":48.5,"v":66.1},{"i":50.9,"v":96.5},{"i":52.3,"v":88.9},{"i":53.8,"v":81.3},{"i":55.5,"v":86.4},{"i":57.9,"v":86.4},{"i":59,"v":66.1},{"i":61.4,"v":86.4},{"i":64,"v":63.6},{"i":65.4,"v":71.2},{"i":67.8,"v":99.1},{"i":69.5,"v":99.1},{"i":71.9,"v":100},{"i":73.6,"v":91.5},{"i":75.4,"v":81.3},{"i":76.9,"v":88.9},{"i":78,"v":68.6},{"i":79.8,"v":66.1},{"i":81.8,"v":95},{"i":83,"v":61},{"i":85,"v":10.3},{"i":86.7,"v":23},{"i":88.5,"v":23},{"i":90,"v":17.9},{"i":92,"v":10.3},{"i":94.6,"v":23},{"i":96,"v":56},{"i":97.7,"v":93},{"i":99.3,"v":86.4},{"i":101,"v":56},{"i":102.8,"v":53.4},{"i":104.5,"v":68.6},{"i":106.3,"v":56},{"i":108,"v":20.5},{"i":110,"v":4.3},{"i":111.5,"v":4.3},{"i":113.8,"v":20.5},{"i":116.8,"v":4.3},{"i":120.8,"v":3.7},{"i":123.2,"v":25.6},{"i":124.9,"v":30.6},{"i":126.7,"v":66.1},{"i":128.4,"v":86.4},{"i":131,"v":98},{"i":132.5,"v":94},{"i":135.4,"v":94},{"i":136.8,"v":81.3},{"i":138.3,"v":45.8},{"i":140,"v":4.3},{"i":141.2,"v":4.3},{"i":143,"v":11.4},{"i":145.3,"v":11.4},{"i":148,"v":49.9},{"i":149.4,"v":38.2},{"i":151.1,"v":25.6},{"i":152.3,"v":56},{"i":154,"v":97.5},{"i":156.4,"v":98},{"i":158.7,"v":86.4},{"i":161,"v":90.4},{"i":162.2,"v":96.5},{"i":165.7,"v":91.5},{"i":168.6,"v":100},{"i":172.5,"v":99.1},{"i":176.1,"v":100},{"i":179.8,"v":96.5},{"i":182.8,"v":73.7},{"i":185.2,"v":71.2},{"i":188.3,"v":10.3},{"i":189.7,"v":5.3},{"i":191.9,"v":26.6},{"i":193.9,"v":41.8},{"i":195.6,"v":25.6},{"i":199.8,"v":9.3},{"i":201.6,"v":30.6},{"i":203.8,"v":28.1},{"i":205.9,"v":4.3},{"i":208.3,"v":7.8},{"i":209.9,"v":25.6},{"i":211.6,"v":75.2},{"i":215,"v":70.2},{"i":218,"v":85.4},{"i":221.1,"v":97.5},{"i":225.9,"v":100},{"i":228.1,"v":88.9},{"i":230.8,"v":43.3},{"i":233.2,"v":40.8},{"i":235.9,"v":21.5},{"i":237.5,"v":28.1},{"i":241.1,"v":9.3},{"i":243.2,"v":9.3},{"i":245,"v":30.6},{"i":246.6,"v":81.3},{"i":248,"v":98},{"i":249.2,"v":94},{"i":250.8,"v":45.8},{"i":252.9,"v":12.9},{"i":254.7,"v":11.4},{"i":256.9,"v":30.6},{"i":258.1,"v":49.4},{"i":260.5,"v":49.4},{"i":262.9,"v":66.1},{"i":265.4,"v":88.9},{"i":266.8,"v":95},{"i":268.4,"v":61},{"i":270.8,"v":4.3},{"i":273.9,"v":35.7},{"i":276.9,"v":25.6},{"i":278.7,"v":14.4},{"i":279.9,"v":14.4},{"i":282.1,"v":66.1},{"i":284.8,"v":99.1},{"i":286.6,"v":56},{"i":289,"v":23},{"i":291.8,"v":17.9},{"i":295.4,"v":44.8},{"i":298.2,"v":17.9},{"i":300.2,"v":85.4},{"i":301.8,"v":81.3},{"i":304.2,"v":35.7},{"i":308.1,"v":4.3},{"i":310.3,"v":15.4},{"i":314,"v":80.3}],
"fr":[{"i":-0.1,"v":25.6},{"i":1.3,"v":25.6},{"i":3,"v":43.3},{"i":4.8,"v":83.9},{"i":6.9,"v":94},{"i":8.9,"v":88.9},{"i":10.4,"v":71.2},{"i":12.4,"v":45.8},{"i":13.9,"v":28.1},{"i":15.3,"v":30.6},{"i":16.8,"v":36.7},{"i":18.8,"v":36.7},{"i":20.2,"v":45.8},{"i":21.7,"v":88.9},{"i":23.5,"v":96.5},{"i":27,"v":96.5},{"i":29.3,"v":91.5},{"i":30.5,"v":81.3},{"i":32.2,"v":72.2},{"i":34,"v":66.1},{"i":35.7,"v":45.8},{"i":37.5,"v":35.7},{"i":39.8,"v":37.2},{"i":41.5,"v":33.2},{"i":43.9,"v":10.3},{"i":45,"v":7.8},{"i":46.8,"v":17.9},{"i":48.5,"v":56},{"i":50.3,"v":86.4},{"i":52,"v":91.5},{"i":54.4,"v":82.3},{"i":57.9,"v":84.9},{"i":59.6,"v":71.2},{"i":62,"v":78.8},{"i":64.3,"v":68.6},{"i":66,"v":76.2},{"i":67.8,"v":91.5},{"i":69.5,"v":97.5},{"i":73,"v":97.5},{"i":75.4,"v":84.9},{"i":77.1,"v":83.9},{"i":79.4,"v":67.1},{"i":81.8,"v":82.8},{"i":83,"v":81.3},{"i":84.7,"v":35.7},{"i":86.4,"v":17.9},{"i":88.5,"v":21.5},{"i":90,"v":20.5},{"i":92.3,"v":12.9},{"i":94,"v":15.4},{"i":96.3,"v":45.8},{"i":98.7,"v":85.4},{"i":99.8,"v":83.9},{"i":102.8,"v":56},{"i":105.1,"v":63.6},{"i":106.8,"v":56},{"i":109.2,"v":10.3},{"i":110.9,"v":4.3},{"i":113.3,"v":15.4},{"i":115,"v":17.9},{"i":117.3,"v":4.3},{"i":120.8,"v":3.7},{"i":123.2,"v":15.4},{"i":126.1,"v":40.8},{"i":127.8,"v":71.2},{"i":130.2,"v":94},{"i":132.5,"v":95.5},{"i":136,"v":94},{"i":137.2,"v":81.3},{"i":139.5,"v":25.6},{"i":141.2,"v":5.3},{"i":143.6,"v":12.9},{"i":145.9,"v":10.3},{"i":147,"v":45.8},{"i":150,"v":33.2},{"i":151.7,"v":35.7},{"i":154,"v":86.4},{"i":155.8,"v":97.5},{"i":158.1,"v":94},{"i":159.9,"v":88.9},{"i":162.2,"v":95},{"i":164.6,"v":94},{"i":166.3,"v":90.4},{"i":168.1,"v":96.5},{"i":172.5,"v":98},{"i":176.1,"v":100},{"i":179.8,"v":91.5},{"i":182.2,"v":81.3},{"i":185.2,"v":66.1},{"i":187.7,"v":15.4},{"i":190.1,"v":6.8},{"i":192.5,"v":25.6},{"i":194.1,"v":35.7},{"i":196.8,"v":24},{"i":199.8,"v":13.9},{"i":202.9,"v":28.1},{"i":205.9,"v":7.8},{"i":208.3,"v":5.3},{"i":210.1,"v":23},{"i":212,"v":72.2},{"i":215,"v":72.7},{"i":216.8,"v":73.7},{"i":219.8,"v":88.9},{"i":223.5,"v":97.5},{"i":227.1,"v":97.5},{"i":229.6,"v":66.1},{"i":232,"v":40.8},{"i":234.4,"v":33.2},{"i":236.8,"v":26.6},{"i":239.3,"v":25.6},{"i":242.7,"v":7.8},{"i":245,"v":17.9},{"i":246.6,"v":58.5},{"i":248.4,"v":93},{"i":249.8,"v":93},{"i":252.6,"v":23},{"i":255,"v":11.4},{"i":256.9,"v":23},{"i":258.7,"v":48.4},{"i":261.1,"v":50.9},{"i":264.2,"v":76.2},{"i":267,"v":88.9},{"i":268.4,"v":81.3},{"i":270.8,"v":20.5},{"i":272.7,"v":15.4},{"i":275.7,"v":33.2},{"i":279.9,"v":17.9},{"i":282.4,"v":45.8},{"i":284.8,"v":90.4},{"i":286.3,"v":88.9},{"i":289,"v":30.6},{"i":292.1,"v":17.9},{"i":295.1,"v":35.7},{"i":298.2,"v":45.8},{"i":301.2,"v":82.8},{"i":303,"v":71.2},{"i":305.4,"v":25.6},{"i":309.1,"v":7.8},{"i":311.5,"v":25.6},{"i":314,"v":63.6}],
"sg":[{"i":-0.1,"v":4.3},{"i":3.6,"v":5.3},{"i":8.3,"v":10.3},{"i":13,"v":8.8},{"i":18.8,"v":6.8},{"i":22.3,"v":10.3},{"i":25.8,"v":20.5},{"i":29.9,"v":38.2},{"i":34,"v":50.9},{"i":38.6,"v":57.5},{"i":42.1,"v":55},{"i":45.6,"v":49.4},{"i":49.1,"v":55},{"i":53.2,"v":62.6},{"i":56.1,"v":75.2},{"i":59.6,"v":85.4},{"i":63.1,"v":86.4},{"i":67.8,"v":91.5},{"i":73.6,"v":97.5},{"i":79.4,"v":98},{"i":85.3,"v":93},{"i":90,"v":85.4},{"i":94,"v":74.2},{"i":100.4,"v":78.8},{"i":106.3,"v":81.3},{"i":109.8,"v":70.2},{"i":113.3,"v":63.6},{"i":116.8,"v":40.8},{"i":120.2,"v":21.5},{"i":125.5,"v":5.3},{"i":130.7,"v":16.4},{"i":136.6,"v":28.1},{"i":141.2,"v":21.5},{"i":145.9,"v":11.4},{"i":151.1,"v":5.3},{"i":156.4,"v":16.4},{"i":161,"v":24.5},{"i":165.7,"v":45.8},{"i":172.5,"v":83.9},{"i":176.1,"v":99.1},{"i":179.8,"v":100},{"i":188.3,"v":97.5},{"i":196.8,"v":96.5},{"i":202.9,"v":96.5},{"i":209.5,"v":88.9},{"i":216.2,"v":89.4},{"i":221.1,"v":97.5},{"i":225.9,"v":99.1},{"i":230.8,"v":94},{"i":236.8,"v":85.4},{"i":244.1,"v":79.8},{"i":251.4,"v":83.9},{"i":257.5,"v":85.4},{"i":263.6,"v":83.9},{"i":269.6,"v":81.3},{"i":273.3,"v":73.7},{"i":276.9,"v":56},{"i":279.9,"v":35.7},{"i":284.2,"v":30.6},{"i":289,"v":23},{"i":293.9,"v":23},{"i":298.8,"v":24.5},{"i":302.4,"v":34.2},{"i":306,"v":30.6},{"i":309.7,"v":20.5},{"i":314,"v":13.9}],
"sr":[{"i":-0.1,"v":7.8},{"i":4.8,"v":5.3},{"i":13,"v":8.3},{"i":22.3,"v":7.8},{"i":28.1,"v":17.9},{"i":32.8,"v":33.2},{"i":37.5,"v":45.8},{"i":42.1,"v":53.4},{"i":48,"v":53.9},{"i":53.2,"v":56},{"i":58.4,"v":68.6},{"i":64.3,"v":81.3},{"i":71.3,"v":91.5},{"i":79.4,"v":97.5},{"i":86.4,"v":96.5},{"i":92.3,"v":88.9},{"i":98.1,"v":79.8},{"i":106.3,"v":78.8},{"i":112.1,"v":75.2},{"i":116.8,"v":62},{"i":121.4,"v":43.3},{"i":126.1,"v":20.5},{"i":131.9,"v":12.9},{"i":137.2,"v":17.9},{"i":142.4,"v":24},{"i":147.1,"v":20.5},{"i":152.9,"v":10.3},{"i":158.7,"v":11.4},{"i":164.6,"v":25.6},{"i":172.5,"v":56},{"i":177.4,"v":78.8},{"i":181.6,"v":91.5},{"i":185.9,"v":97.5},{"i":193.1,"v":96.5},{"i":201.6,"v":96.5},{"i":208.9,"v":94},{"i":216.2,"v":88.9},{"i":223.5,"v":96.5},{"i":229.6,"v":97.5},{"i":235.6,"v":91.5},{"i":244.1,"v":82.3},{"i":251.4,"v":82.3},{"i":259.9,"v":84.4},{"i":268.4,"v":83.9},{"i":274.5,"v":78.8},{"i":279.3,"v":63.6},{"i":285.4,"v":38.2},{"i":290.3,"v":28.1},{"i":297.5,"v":23},{"i":304.2,"v":28.1},{"i":312.1,"v":28.1},{"i":314,"v":24}]
},
"vconcat":[
{"width":2429,"height":27,"view":{"stroke":null},"data":{"values":[{"i":-8.82,"txt":"Tickmill published on TradingView.com, Dec 06, 2023 04:01 UTC-5"}]},"mark":{"type":"text","align":"left","baseline":"middle","fontSize":12,"color":"#d1d4dc","dy":2},"encoding":{"x":{"field":"i","type":"quantitative","scale":{"domain":[-8.82,361.28],"nice":false,"zero":false},"axis":null},"text":{"field":"txt"}}},
{"width":2429,"height":987,"view":{"fill":"#ffffff","stroke":"#b2b5be"},"resolve":{"axis":{"y":"independent"}},"layer":[
{"data":{"values":[{"i":175.5,"p":4391.4,"txt":"US500, 4h"}]},"mark":{"type":"text","fontSize":98,"color":"#ebecef","align":"center","baseline":"middle"},"encoding":{"x":{"field":"i","type":"quantitative","scale":{"domain":[-8.82,361.28],"nice":false,"zero":false},"axis":null},"y":{"field":"p","type":"quantitative","scale":{"domain":[4056.6,4667.9],"nice":false,"zero":false},"axis":{"orient":"right","offset":-65,"values":[4060,4080,4100,4120,4140,4160,4180,4200,4220,4240,4260,4280,4300,4320,4340,4360,4380,4400,4420,4440,4460,4480,4500,4520,4540,4560,4600,4620,4640],"format":".1f","domain":false,"ticks":false,"labelPadding":7,"labelFontSize":12,"labelColor":"#131722","grid":false,"title":null}},"text":{"field":"txt"}}},
{"data":{"values":[{"i":175.5,"p":4328.5,"txt":"US 500 Index"}]},"mark":{"type":"text","fontSize":48,"color":"#ebecef","align":"center","baseline":"middle"},"encoding":{"x":{"field":"i","type":"quantitative","scale":{"domain":[-8.82,361.28],"nice":false,"zero":false},"axis":null},"y":{"field":"p","type":"quantitative","scale":{"domain":[4056.6,4667.9],"nice":false,"zero":false},"axis":null},"text":{"field":"txt"}}},
{"data":{"name":"grey"},"mark":{"type":"rule","color":"#e0e2e6","strokeWidth":2.7},"encoding":{"x":{"field":"a","type":"quantitative","scale":{"domain":[-8.82,361.28],"nice":false,"zero":false},"axis":null},"x2":{"field":"e"},"y":{"field":"p","type":"quantitative","scale":{"domain":[4056.6,4667.9],"nice":false,"zero":false},"axis":null}}},
{"data":{"name":"vol"},"mark":{"type":"rule","strokeWidth":7},"encoding":{"x":{"field":"g","type":"quantitative","scale":{"domain":[-8.82,361.28],"nice":false,"zero":false},"axis":null},"x2":{"field":"r"},"y":{"field":"p","type":"quantitative","scale":{"domain":[4056.6,4667.9],"nice":false,"zero":false},"axis":null},"color":{"condition":{"test":"datum.v==1","value":"#fa7b72"},"value":"#fcd3cf"}}},
{"data":{"name":"vol"},"mark":{"type":"rule","strokeWidth":7},"encoding":{"x":{"field":"o","type":"quantitative","scale":{"domain":[-8.82,361.28],"nice":false,"zero":false},"axis":null},"x2":{"field":"g"},"y":{"field":"p","type":"quantitative","scale":{"domain":[4056.6,4667.9],"nice":false,"zero":false},"axis":null},"color":{"condition":{"test":"datum.v==1","value":"#83c883"},"value":"#d6ecd8"}}},
{"data":{"name":"bandsRed"},"mark":{"type":"line","color":"#f23645","strokeWidth":1,"opacity":0.17,"clip":true},"encoding":{"x":{"field":"i","type":"quantitative","scale":{"domain":[-8.82,361.28],"nice":false,"zero":false},"axis":null},"y":{"field":"p","type":"quantitative","scale":{"domain":[4056.6,4667.9],"nice":false,"zero":false},"axis":null},"detail":{"field":"s"}}},
{"data":{"name":"bandsGreen"},"mark":{"type":"line","color":"#4caf50","strokeWidth":1,"opacity":0.17,"clip":true},"encoding":{"x":{"field":"i","type":"quantitative","scale":{"domain":[-8.82,361.28],"nice":false,"zero":false},"axis":null},"y":{"field":"p","type":"quantitative","scale":{"domain":[4056.6,4667.9],"nice":false,"zero":false},"axis":null},"detail":{"field":"s"}}},
{"data":{"name":"stepRed"},"mark":{"type":"line","color":"#f23645","strokeWidth":1.5,"opacity":0.3},"encoding":{"x":{"field":"i","type":"quantitative","scale":{"domain":[-8.82,361.28],"nice":false,"zero":false},"axis":null},"y":{"field":"p","type":"quantitative","scale":{"domain":[4056.6,4667.9],"nice":false,"zero":false},"axis":null}}},
{"data":{"name":"stepOrange"},"mark":{"type":"line","color":"#ff9800","strokeWidth":1.5,"opacity":0.33},"encoding":{"x":{"field":"i","type":"quantitative","scale":{"domain":[-8.82,361.28],"nice":false,"zero":false},"axis":null},"y":{"field":"p","type":"quantitative","scale":{"domain":[4056.6,4667.9],"nice":false,"zero":false},"axis":null}}},
{"data":{"name":"stepGreen"},"mark":{"type":"line","color":"#4caf50","strokeWidth":1.5,"opacity":0.33},"encoding":{"x":{"field":"i","type":"quantitative","scale":{"domain":[-8.82,361.28],"nice":false,"zero":false},"axis":null},"y":{"field":"p","type":"quantitative","scale":{"domain":[4056.6,4667.9],"nice":false,"zero":false},"axis":null}}},
{"data":{"values":[{"i":84.9,"p":4407},{"i":40.9,"p":4345.2},{"i":205.9,"p":4393.2},{"i":291.8,"p":4587.6},{"i":303.9,"p":4604}]},"mark":{"type":"point","filled":true,"color":"#f23645","opacity":0.45,"size":70},"encoding":{"x":{"field":"i","type":"quantitative","scale":{"domain":[-8.82,361.28],"nice":false,"zero":false},"axis":null},"y":{"field":"p","type":"quantitative","scale":{"domain":[4056.6,4667.9],"nice":false,"zero":false},"axis":null}}},
{"data":{"values":[{"i":27.9,"p":4245},{"i":60,"p":4188.3},{"i":161.9,"p":4105.4},{"i":209.9,"p":4323},{"i":297.8,"p":4533.9}]},"mark":{"type":"point","filled":true,"color":"#4caf50","opacity":0.5,"size":70},"encoding":{"x":{"field":"i","type":"quantitative","scale":{"domain":[-8.82,361.28],"nice":false,"zero":false},"axis":null},"y":{"field":"p","type":"quantitative","scale":{"domain":[4056.6,4667.9],"nice":false,"zero":false},"axis":null}}},
{"data":{"values":[{"k":"a","i":-0.4,"p":4591.3},{"k":"a","i":322,"p":4564.5},{"k":"b","i":225.9,"p":4532.9},{"k":"b","i":319.7,"p":4646},{"k":"c","i":227.9,"p":4480.2},{"k":"c","i":317.8,"p":4561.1}]},"mark":{"type":"line","color":"#b2b5be","strokeWidth":1.5,"opacity":0.9},"encoding":{"x":{"field":"i","type":"quantitative","scale":{"domain":[-8.82,361.28],"nice":false,"zero":false},"axis":null},"y":{"field":"p","type":"quantitative","scale":{"domain":[4056.6,4667.9],"nice":false,"zero":false},"axis":null},"detail":{"field":"k"}}},
{"data":{"values":[{"i":299.8,"j":329.8,"p":4640.3},{"i":299.8,"j":329.8,"p":4618.2},{"i":299.8,"j":329.8,"p":4577.5},{"i":299.8,"j":329.8,"p":4555.4},{"i":299.8,"j":329.8,"p":4492.6}]},"mark":{"type":"rule","color":"#b2b5be","strokeWidth":1.5},"encoding":{"x":{"field":"i","type":"quantitative","scale":{"domain":[-8.82,361.28],"nice":false,"zero":false},"axis":null},"x2":{"field":"j"},"y":{"field":"p","type":"quantitative","scale":{"domain":[4056.6,4667.9],"nice":false,"zero":false},"axis":null}}},
{"data":{"values":[{"i":297.3,"p":4640.3,"txt":"R2 (4,640.3)"},{"i":297.3,"p":4618.2,"txt":"R1 (4,618.2)"},{"i":297.3,"p":4577.5,"txt":"P (4,577.5)"},{"i":297.3,"p":4555.4,"txt":"S1 (4,555.4)"},{"i":297.3,"p":4514.7,"txt":"S2 (4,514.7)"},{"i":297.3,"p":4492.6,"txt":"S3 (4,492.6)"}]},"mark":{"type":"text","align":"right","baseline":"middle","fontSize":13,"color":"#b2b5be"},"encoding":{"x":{"field":"i","type":"quantitative","scale":{"domain":[-8.82,361.28],"nice":false,"zero":false},"axis":null},"y":{"field":"p","type":"quantitative","scale":{"domain":[4056.6,4667.9],"nice":false,"zero":false},"axis":null},"text":{"field":"txt"}}},
{"data":{"values":[{"i":-0.4,"j":351.4,"p":4580.5}]},"mark":{"type":"rule","color":"#008000","strokeWidth":1,"strokeDash":[1,2]},"encoding":{"x":{"field":"i","type":"quantitative","scale":{"domain":[-8.82,361.28],"nice":false,"zero":false},"axis":null},"x2":{"field":"j"},"y":{"field":"p","type":"quantitative","scale":{"domain":[4056.6,4667.9],"nice":false,"zero":false},"axis":null}}},
{"data":{"name":"candles"},"mark":{"type":"rule","color":"#000000","strokeWidth":1},"encoding":{"x":{"field":"i","type":"quantitative","scale":{"domain":[-8.82,361.28],"nice":false,"zero":false},"axis":null},"y":{"field":"h","type":"quantitative","scale":{"domain":[4056.6,4667.9],"nice":false,"zero":false},"axis":null},"y2":{"field":"l"}}},
{"data":{"name":"candles"},"mark":{"type":"rule","strokeWidth":5},"encoding":{"x":{"field":"i","type":"quantitative","scale":{"domain":[-8.82,361.28],"nice":false,"zero":false},"axis":null},"y":{"field":"t","type":"quantitative","scale":{"domain":[4056.6,4667.9],"nice":false,"zero":false},"axis":null},"y2":{"field":"b"},"color":{"condition":{"test":"datum.d==1","value":"#008000"},"value":"#ff0000"}}},
{"data":{"values":[{"i":299.8,"j":351.4,"p":4632.4},{"i":299.8,"j":351.4,"p":4514.6}]},"mark":{"type":"rule","color":"#ff9800","strokeWidth":1.5,"opacity":0.75},"encoding":{"x":{"field":"i","type":"quantitative","scale":{"domain":[-8.82,361.28],"nice":false,"zero":false},"axis":null},"x2":{"field":"j"},"y":{"field":"p","type":"quantitative","scale":{"domain":[4056.6,4667.9],"nice":false,"zero":false},"axis":null}}},
{"data":{"values":[{"i":311.8,"j":351.4,"p":4607},{"i":311.8,"j":351.4,"p":4545.7}]},"mark":{"type":"rule","color":"#00e676","strokeWidth":1.5},"encoding":{"x":{"field":"i","type":"quantitative","scale":{"domain":[-8.82,361.28],"nice":false,"zero":false},"axis":null},"x2":{"field":"j"},"y":{"field":"p","type":"quantitative","scale":{"domain":[4056.6,4667.9],"nice":false,"zero":false},"axis":null}}},
{"data":{"values":[{"i":293.9,"j":351.4,"p":4180.9}]},"mark":{"type":"rule","color":"#d84fe3","strokeWidth":1.5},"encoding":{"x":{"field":"i","type":"quantitative","scale":{"domain":[-8.82,361.28],"nice":false,"zero":false},"axis":null},"x2":{"field":"j"},"y":{"field":"p","type":"quantitative","scale":{"domain":[4056.6,4667.9],"nice":false,"zero":false},"axis":null}}},
{"data":{"values":[{"i":-0.4,"j":351.4,"p":4360.7}]},"mark":{"type":"rule","color":"#ff0000","strokeWidth":2.5},"encoding":{"x":{"field":"i","type":"quantitative","scale":{"domain":[-8.82,361.28],"nice":false,"zero":false},"axis":null},"x2":{"field":"j"},"y":{"field":"p","type":"quantitative","scale":{"domain":[4056.6,4667.9],"nice":false,"zero":false},"axis":null}}},
{"data":{"values":[{"k":"z","i":311.3,"p":4568},{"k":"z","i":312.9,"p":4586},{"k":"z","i":316,"p":4553.5},{"k":"z","i":323,"p":4652.6},{"k":"z","i":327,"p":4579.3},{"k":"h","i":326.2,"p":4583},{"k":"h","i":327,"p":4579.3},{"k":"h","i":328,"p":4583}]},"mark":{"type":"line","color":"#3f63d3","strokeWidth":1.2},"encoding":{"x":{"field":"i","type":"quantitative","scale":{"domain":[-8.82,361.28],"nice":false,"zero":false},"axis":null},"y":{"field":"p","type":"quantitative","scale":{"domain":[4056.6,4667.9],"nice":false,"zero":false},"axis":null},"detail":{"field":"k"}}},
{"data":{"values":[{"i":313.9,"p":4065}]},"mark":{"type":"point","shape":"circle","filled":false,"color":"#9c27b0","strokeWidth":1.5,"size":300,"opacity":1},"encoding":{"x":{"field":"i","type":"quantitative","scale":{"domain":[-8.82,361.28],"nice":false,"zero":false},"axis":null},"y":{"field":"p","type":"quantitative","scale":{"domain":[4056.6,4667.9],"nice":false,"zero":false},"axis":null}}},
{"data":{"values":[{"i":313.9,"p":4065}]},"mark":{"type":"point","shape":"M0.2,-1L-0.6,0.2H-0.05L-0.25,1L0.6,-0.25H0.05Z","filled":true,"color":"#9c27b0","size":110,"opacity":1},"encoding":{"x":{"field":"i","type":"quantitative","scale":{"domain":[-8.82,361.28],"nice":false,"zero":false},"axis":null},"y":{"field":"p","type":"quantitative","scale":{"domain":[4056.6,4667.9],"nice":false,"zero":false},"axis":null}}},
{"data":{"values":[{"i":315,"p":4069}]},"mark":{"type":"point","filled":true,"color":"#f23645","size":28,"opacity":1},"encoding":{"x":{"field":"i","type":"quantitative","scale":{"domain":[-8.82,361.28],"nice":false,"zero":false},"axis":null},"y":{"field":"p","type":"quantitative","scale":{"domain":[4056.6,4667.9],"nice":false,"zero":false},"axis":null}}},
{"data":{"values":[{"i":351.4,"j":360.6,"p":4585.5,"q":4566.9}]},"mark":{"type":"rect","color":"#008000"},"encoding":{"x":{"field":"i","type":"quantitative","scale":{"domain":[-8.82,361.28],"nice":false,"zero":false},"axis":null},"x2":{"field":"j"},"y":{"field":"p","type":"quantitative","scale":{"domain":[4056.6,4667.9],"nice":false,"zero":false},"axis":null},"y2":{"field":"q"}}},
{"data":{"values":[{"i":352.5,"p":4580.6,"txt":"4580.9"}]},"mark":{"type":"text","align":"left","baseline":"middle","fontSize":12,"color":"#ffffff"},"encoding":{"x":{"field":"i","type":"quantitative","scale":{"domain":[-8.82,361.28],"nice":false,"zero":false},"axis":null},"y":{"field":"p","type":"quantitative","scale":{"domain":[4056.6,4667.9],"nice":false,"zero":false},"axis":null},"text":{"field":"txt"}}},
{"data":{"values":[{"i":352.5,"p":4572.5,"txt":"01:58:12"}]},"mark":{"type":"text","align":"left","baseline":"middle","fontSize":12,"color":"#bfe0bf"},"encoding":{"x":{"field":"i","type":"quantitative","scale":{"domain":[-8.82,361.28],"nice":false,"zero":false},"axis":null},"y":{"field":"p","type":"quantitative","scale":{"domain":[4056.6,4667.9],"nice":false,"zero":false},"axis":null},"text":{"field":"txt"}}},
{"data":{"values":[{"i":351.8,"j":360.7,"p":4664.8,"q":4649.9}]},"mark":{"type":"rect","fill":"#ffffff","stroke":"#f0f3fa","strokeWidth":1.5,"cornerRadius":4},"encoding":{"x":{"field":"i","type":"quantitative","scale":{"domain":[-8.82,361.28],"nice":false,"zero":false},"axis":null},"x2":{"field":"j"},"y":{"field":"p","type":"quantitative","scale":{"domain":[4056.6,4667.9],"nice":false,"zero":false},"axis":null},"y2":{"field":"q"}}},
{"data":{"values":[{"i":355.2,"p":4657.3,"txt":"USD"}]},"mark":{"type":"text","align":"center","baseline":"middle","fontSize":12,"color":"#131722"},"encoding":{"x":{"field":"i","type":"quantitative","scale":{"domain":[-8.82,361.28],"nice":false,"zero":false},"axis":null},"y":{"field":"p","type":"quantitative","scale":{"domain":[4056.6,4667.9],"nice":false,"zero":false},"axis":null},"text":{"field":"txt"}}},
{"data":{"values":[{"i":-0.4},{"i":351.4}]},"mark":{"type":"rule","color":"#787b86","strokeWidth":1},"encoding":{"x":{"field":"i","type":"quantitative","scale":{"domain":[-8.82,361.28],"nice":false,"zero":false},"axis":null}}}
]},
{"width":2429,"height":112,"view":{"fill":"#ffffff","stroke":"#e0e3eb"},"resolve":{"axis":{"y":"independent"}},"layer":[
{"data":{"values":[{"i":-0.4,"j":314,"v":0}]},"mark":{"type":"rule","color":"#4a4d57","strokeWidth":2},"encoding":{"x":{"field":"i","type":"quantitative","scale":{"domain":[-8.82,361.28],"nice":false,"zero":false},"axis":null},"x2":{"field":"j"},"y":{"field":"v","type":"quantitative","scale":{"domain":[-103.7,105.6],"nice":false,"zero":false},"axis":{"orient":"right","offset":-65,"values":[-100,0,100],"format":".1f","domain":false,"ticks":false,"labelPadding":7,"labelFontSize":12,"labelColor":"#131722","grid":false,"title":null}}}},
{"data":{"values":[{"i":182.8,"v":87.9},{"i":320.9,"v":57.4}]},"mark":{"type":"line","color":"#ff9800","strokeWidth":2},"encoding":{"x":{"field":"i","type":"quantitative","scale":{"domain":[-8.82,361.28],"nice":false,"zero":false},"axis":null},"y":{"field":"v","type":"quantitative","scale":{"domain":[-103.7,105.6],"nice":false,"zero":false},"axis":null}}},
{"data":{"name":"rsi"},"transform":[{"filter":"datum.s=='u'"}],"mark":{"type":"line","color":"#86c98a","strokeWidth":3.5},"encoding":{"x":{"field":"i","type":"quantitative","scale":{"domain":[-8.82,361.28],"nice":false,"zero":false},"axis":null},"y":{"field":"v","type":"quantitative","scale":{"domain":[-103.7,105.6],"nice":false,"zero":false},"axis":null},"detail":{"field":"k"}}},
{"data":{"name":"rsi"},"transform":[{"filter":"datum.s=='d'"}],"mark":{"type":"line","color":"#fa8a82","strokeWidth":3.5},"encoding":{"x":{"field":"i","type":"quantitative","scale":{"domain":[-8.82,361.28],"nice":false,"zero":false},"axis":null},"y":{"field":"v","type":"quantitative","scale":{"domain":[-103.7,105.6],"nice":false,"zero":false},"axis":null},"detail":{"field":"k"}}},
{"data":{"values":[{"i":-0.4},{"i":351.4}]},"mark":{"type":"rule","color":"#787b86","strokeWidth":1},"encoding":{"x":{"field":"i","type":"quantitative","scale":{"domain":[-8.82,361.28],"nice":false,"zero":false},"axis":null}}}
]},
{"width":2429,"height":79,"view":{"fill":"#ffffff","stroke":"#e0e3eb"},"resolve":{"axis":{"y":"independent"}},"layer":[
{"data":{"values":[{"i":-0.4,"j":351.4,"v":80}]},"mark":{"type":"rule","color":"#f23645","strokeWidth":1.2},"encoding":{"x":{"field":"i","type":"quantitative","scale":{"domain":[-8.82,361.28],"nice":false,"zero":false},"axis":null},"x2":{"field":"j"},"y":{"field":"v","type":"quantitative","scale":{"domain":[-7.6,112.6],"nice":false,"zero":false},"axis":{"orient":"right","offset":-65,"values":[0,50,100],"format":".2f","domain":false,"ticks":false,"labelPadding":7,"labelFontSize":12,"labelColor":"#131722","grid":false,"title":null}}}},
{"data":{"values":[{"i":-0.4,"j":351.4,"v":22}]},"mark":{"type":"rule","color":"#4caf50","strokeWidth":1.2},"encoding":{"x":{"field":"i","type":"quantitative","scale":{"domain":[-8.82,361.28],"nice":false,"zero":false},"axis":null},"x2":{"field":"j"},"y":{"field":"v","type":"quantitative","scale":{"domain":[-7.6,112.6],"nice":false,"zero":false},"axis":{"orient":"left","offset":-55,"values":[0,50,100],"format":".2f","domain":false,"ticks":false,"labelPadding":6,"labelFontSize":12,"labelColor":"#131722","grid":false,"title":null}}}},
{"data":{"values":[{"i":-0.4,"j":351.4,"v":52},{"i":-0.4,"j":351.4,"v":44}]},"mark":{"type":"rule","color":"#4a4d57","strokeWidth":1.2},"encoding":{"x":{"field":"i","type":"quantitative","scale":{"domain":[-8.82,361.28],"nice":false,"zero":false},"axis":null},"x2":{"field":"j"},"y":{"field":"v","type":"quantitative","scale":{"domain":[-7.6,112.6],"nice":false,"zero":false},"axis":null}}},
{"data":{"values":[{"i":-0.4,"j":351.4,"v":51}]},"mark":{"type":"rule","color":"#b2b5be","strokeWidth":1,"strokeDash":[3,3]},"encoding":{"x":{"field":"i","type":"quantitative","scale":{"domain":[-8.82,361.28],"nice":false,"zero":false},"axis":null},"x2":{"field":"j"},"y":{"field":"v","type":"quantitative","scale":{"domain":[-7.6,112.6],"nice":false,"zero":false},"axis":null}}},
{"data":{"name":"sg"},"mark":{"type":"line","color":"#4caf50","strokeWidth":1.5,"opacity":0.85},"encoding":{"x":{"field":"i","type":"quantitative","scale":{"domain":[-8.82,361.28],"nice":false,"zero":false},"axis":null},"y":{"field":"v","type":"quantitative","scale":{"domain":[-7.6,112.6],"nice":false,"zero":false},"axis":null}}},
{"data":{"name":"sr"},"mark":{"type":"line","color":"#f23645","strokeWidth":1.5,"opacity":0.85},"encoding":{"x":{"field":"i","type":"quantitative","scale":{"domain":[-8.82,361.28],"nice":false,"zero":false},"axis":null},"y":{"field":"v","type":"quantitative","scale":{"domain":[-7.6,112.6],"nice":false,"zero":false},"axis":null}}},
{"data":{"name":"fg"},"mark":{"type":"line","color":"#4caf50","strokeWidth":1},"encoding":{"x":{"field":"i","type":"quantitative","scale":{"domain":[-8.82,361.28],"nice":false,"zero":false},"axis":null},"y":{"field":"v","type":"quantitative","scale":{"domain":[-7.6,112.6],"nice":false,"zero":false},"axis":null}}},
{"data":{"name":"fr"},"mark":{"type":"line","color":"#f23645","strokeWidth":1},"encoding":{"x":{"field":"i","type":"quantitative","scale":{"domain":[-8.82,361.28],"nice":false,"zero":false},"axis":null},"y":{"field":"v","type":"quantitative","scale":{"domain":[-7.6,112.6],"nice":false,"zero":false},"axis":null}}},
{"data":{"values":[{"i":-0.4},{"i":351.4}]},"mark":{"type":"rule","color":"#787b86","strokeWidth":1},"encoding":{"x":{"field":"i","type":"quantitative","scale":{"domain":[-8.82,361.28],"nice":false,"zero":false},"axis":null}}}
]},
{"width":2429,"height":28,"view":{"fill":"#ffffff","stroke":"#787b86"},"layer":[
{"data":{"values":[{"i":-0.4},{"i":351.4}]},"mark":{"type":"rule","color":"#787b86","strokeWidth":1},"encoding":{"x":{"field":"i","type":"quantitative","scale":{"domain":[-8.82,361.28],"nice":false,"zero":false},"axis":null}}},
{"data":{"values":[{"i":3.9,"txt":"25"},{"i":15.9,"txt":"27"},{"i":45.9,"txt":"4"},{"i":63.8,"txt":"9"},{"i":75.8,"txt":"11"},{"i":93.9,"txt":"16"},{"i":105.9,"txt":"18"},{"i":123.9,"txt":"23"},{"i":135.9,"txt":"25"},{"i":153.8,"txt":"30"},{"i":183.8,"txt":"6"},{"i":195.8,"txt":"8"},{"i":213.9,"txt":"13"},{"i":225.9,"txt":"15"},{"i":243.9,"txt":"20"},{"i":255.9,"txt":"22"},{"i":271.9,"txt":"27"},{"i":283.8,"txt":"29"},{"i":307.9,"txt":"5"},{"i":319.9,"txt":"7"},{"i":331.9,"txt":"11"},{"i":343.9,"txt":"13"}]},"mark":{"type":"text","align":"center","baseline":"middle","fontSize":12,"color":"#131722"},"encoding":{"x":{"field":"i","type":"quantitative","scale":{"domain":[-8.82,361.28],"nice":false,"zero":false},"axis":null},"text":{"field":"txt"}}},
{"data":{"values":[{"i":31.9,"txt":"Oct"},{"i":165.8,"txt":"Nov"},{"i":295.8,"txt":"Dec"}]},"mark":{"type":"text","align":"center","baseline":"middle","fontSize":12,"fontWeight":"bold","color":"#131722"},"encoding":{"x":{"field":"i","type":"quantitative","scale":{"domain":[-8.82,361.28],"nice":false,"zero":false},"axis":null},"text":{"field":"txt"}}},
{"data":{"values":[{"i":-4.55},{"i":356.2}]},"mark":{"type":"point","filled":true,"color":"#f0f3fa","opacity":1,"size":260},"encoding":{"x":{"field":"i","type":"quantitative","scale":{"domain":[-8.82,361.28],"nice":false,"zero":false},"axis":null}}},
{"data":{"values":[{"i":-4.55,"txt":"Z"},{"i":356.2,"txt":"A"}]},"mark":{"type":"text","align":"center","baseline":"middle","fontSize":11,"color":"#131722"},"encoding":{"x":{"field":"i","type":"quantitative","scale":{"domain":[-8.82,361.28],"nice":false,"zero":false},"axis":null},"text":{"field":"txt"}}}
]},
{"width":2429,"height":35,"view":{"stroke":null},"layer":[
{"data":{"values":[{"i":-7.3}]},"mark":{"type":"point","shape":"M-1,-0.55H-0.2V0.55H-0.6V-0.15H-1ZM0,-0.55A0.22,0.22,0,1,1,0,-0.11A0.22,0.22,0,1,1,0,-0.55ZM0.45,-0.55H0.95L0.5,0.55H0Z","filled":true,"color":"#d1d4dc","opacity":1,"size":380},"encoding":{"x":{"field":"i","type":"quantitative","scale":{"domain":[-8.82,361.28],"nice":false,"zero":false},"axis":null}}},
{"data":{"values":[{"i":-5.2,"txt":"TradingView"}]},"mark":{"type":"text","align":"left","baseline":"middle","fontSize":14,"fontWeight":500,"color":"#d1d4dc","dy":1},"encoding":{"x":{"field":"i","type":"quantitative","scale":{"domain":[-8.82,361.28],"nice":false,"zero":false},"axis":null},"text":{"field":"txt"}}}
]}
]}
